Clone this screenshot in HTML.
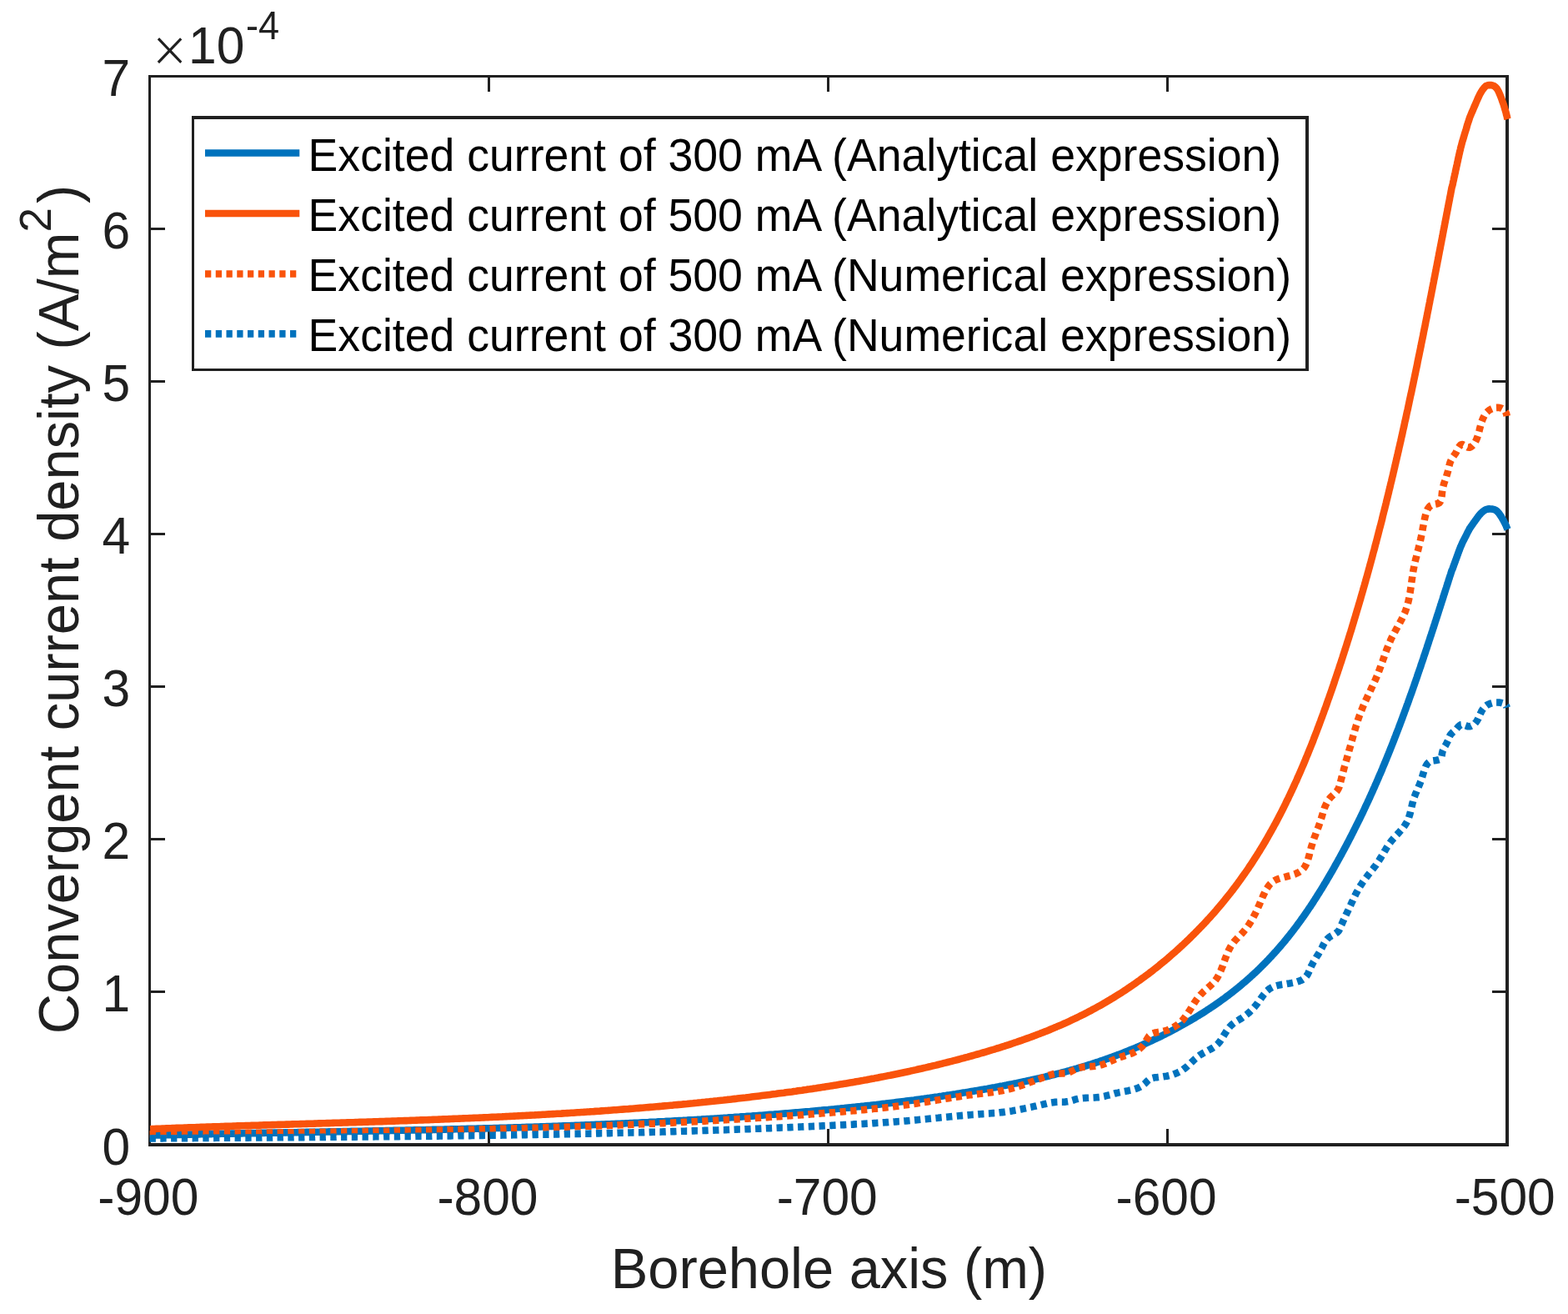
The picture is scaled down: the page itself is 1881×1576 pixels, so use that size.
<!DOCTYPE html><html><head><meta charset="utf-8"><style>html,body{margin:0;padding:0;background:#fff;}svg{display:block;}text{font-family:"Liberation Sans",Arial,sans-serif;}</style></head><body>
<svg width="1881" height="1576" viewBox="0 0 1881 1576">
<rect width="1881" height="1576" fill="#fff"/>
<g fill="#202020">
<rect x="178" y="90" width="1632" height="3"/>
<rect x="178" y="1371" width="1632" height="4"/>
<rect x="178" y="90" width="3" height="1285"/>
<rect x="1806" y="90" width="4" height="1285"/>
<rect x="585" y="1354" width="3" height="17"/>
<rect x="585" y="93" width="3" height="17"/>
<rect x="992" y="1354" width="3" height="17"/>
<rect x="992" y="93" width="3" height="17"/>
<rect x="1399" y="1354" width="3" height="17"/>
<rect x="1399" y="93" width="3" height="17"/>
<rect x="181" y="1188" width="17" height="3"/>
<rect x="1790" y="1188" width="16" height="3"/>
<rect x="181" y="1005" width="17" height="3"/>
<rect x="1790" y="1005" width="16" height="3"/>
<rect x="181" y="822" width="17" height="3"/>
<rect x="1790" y="822" width="16" height="3"/>
<rect x="181" y="639" width="17" height="3"/>
<rect x="1790" y="639" width="16" height="3"/>
<rect x="181" y="456" width="17" height="3"/>
<rect x="1790" y="456" width="16" height="3"/>
<rect x="181" y="273" width="17" height="3"/>
<rect x="1790" y="273" width="16" height="3"/>
</g>
<g fill="none" stroke-linejoin="round">
<path d="M180.1 1361.7 L182.6 1361.6 L185.0 1361.6 L187.4 1361.5 L189.9 1361.5 L192.3 1361.4 L194.7 1361.4 L197.2 1361.3 L199.6 1361.2 L202.0 1361.2 L204.5 1361.1 L206.9 1361.1 L209.3 1361.0 L211.8 1361.0 L214.2 1360.9 L216.6 1360.9 L219.1 1360.8 L221.5 1360.8 L223.9 1360.7 L226.4 1360.6 L228.8 1360.6 L231.2 1360.5 L233.7 1360.5 L236.1 1360.4 L238.6 1360.4 L241.0 1360.3 L243.4 1360.3 L245.9 1360.2 L248.3 1360.2 L250.7 1360.1 L253.2 1360.1 L255.6 1360.0 L258.0 1360.0 L260.5 1359.9 L262.9 1359.9 L265.4 1359.8 L267.8 1359.8 L270.2 1359.8 L272.7 1359.7 L275.1 1359.7 L277.5 1359.6 L280.0 1359.6 L282.4 1359.5 L284.9 1359.5 L287.3 1359.4 L289.7 1359.4 L292.2 1359.3 L294.6 1359.3 L297.0 1359.2 L299.5 1359.2 L301.9 1359.1 L304.4 1359.1 L306.8 1359.1 L309.2 1359.0 L311.7 1359.0 L314.1 1358.9 L316.6 1358.9 L319.0 1358.8 L321.4 1358.8 L323.9 1358.7 L326.3 1358.7 L328.8 1358.6 L331.2 1358.6 L333.6 1358.6 L336.1 1358.5 L338.5 1358.5 L341.0 1358.4 L343.4 1358.4 L345.9 1358.3 L348.3 1358.3 L350.7 1358.2 L353.2 1358.2 L355.6 1358.2 L358.1 1358.1 L360.5 1358.1 L362.9 1358.0 L365.4 1358.0 L367.8 1357.9 L370.3 1357.9 L372.7 1357.8 L375.2 1357.8 L377.6 1357.8 L380.0 1357.7 L382.5 1357.7 L384.9 1357.6 L387.4 1357.6 L389.8 1357.5 L392.2 1357.5 L394.7 1357.4 L397.1 1357.4 L399.6 1357.4 L402.0 1357.3 L404.5 1357.3 L406.9 1357.2 L409.3 1357.2 L411.8 1357.1 L414.2 1357.1 L416.7 1357.0 L419.1 1357.0 L421.6 1356.9 L424.0 1356.9 L426.4 1356.9 L428.9 1356.8 L431.3 1356.8 L433.8 1356.7 L436.2 1356.7 L438.7 1356.6 L441.1 1356.6 L443.5 1356.5 L446.0 1356.5 L448.4 1356.4 L450.9 1356.4 L453.3 1356.3 L455.8 1356.3 L458.2 1356.2 L460.7 1356.2 L463.1 1356.1 L465.5 1356.1 L468.0 1356.0 L470.4 1356.0 L472.9 1355.9 L475.3 1355.9 L477.8 1355.8 L480.2 1355.8 L482.6 1355.7 L485.1 1355.7 L487.5 1355.6 L490.0 1355.6 L492.4 1355.5 L494.9 1355.5 L497.3 1355.4 L499.8 1355.4 L502.2 1355.3 L504.6 1355.3 L507.1 1355.2 L509.5 1355.2 L512.0 1355.1 L514.4 1355.0 L516.9 1355.0 L519.3 1354.9 L521.7 1354.9 L524.2 1354.8 L526.6 1354.8 L529.1 1354.7 L531.5 1354.7 L534.0 1354.6 L536.4 1354.5 L538.8 1354.5 L541.3 1354.4 L543.7 1354.4 L546.2 1354.3 L548.6 1354.2 L551.1 1354.2 L553.5 1354.1 L556.0 1354.1 L558.4 1354.0 L560.8 1353.9 L563.3 1353.9 L565.7 1353.8 L568.2 1353.8 L570.6 1353.7 L573.1 1353.6 L575.5 1353.6 L577.9 1353.5 L580.4 1353.4 L582.8 1353.4 L585.3 1353.3 L587.7 1353.2 L590.1 1353.2 L592.6 1353.1 L595.0 1353.0 L597.5 1353.0 L599.9 1352.9 L602.4 1352.8 L604.8 1352.7 L607.2 1352.7 L609.7 1352.6 L612.1 1352.5 L614.6 1352.5 L617.0 1352.4 L619.5 1352.3 L621.9 1352.2 L624.3 1352.2 L626.8 1352.1 L629.2 1352.0 L631.7 1351.9 L634.1 1351.9 L636.5 1351.8 L639.0 1351.7 L641.4 1351.6 L643.9 1351.5 L646.3 1351.5 L648.7 1351.4 L651.2 1351.3 L653.6 1351.2 L656.1 1351.1 L658.5 1351.0 L660.9 1351.0 L663.4 1350.9 L665.8 1350.8 L668.3 1350.7 L670.7 1350.6 L673.1 1350.5 L675.6 1350.4 L678.0 1350.4 L680.5 1350.3 L682.9 1350.2 L685.3 1350.1 L687.8 1350.0 L690.2 1349.9 L692.7 1349.8 L695.1 1349.7 L697.5 1349.6 L700.0 1349.5 L702.4 1349.4 L704.8 1349.3 L707.3 1349.2 L709.7 1349.1 L712.2 1349.0 L714.6 1348.9 L717.0 1348.8 L719.5 1348.7 L721.9 1348.6 L724.3 1348.5 L726.8 1348.4 L729.2 1348.3 L731.6 1348.2 L734.1 1348.1 L736.5 1348.0 L739.0 1347.9 L741.4 1347.8 L743.8 1347.7 L746.3 1347.6 L748.7 1347.5 L751.1 1347.3 L753.6 1347.2 L756.0 1347.1 L758.4 1347.0 L760.9 1346.9 L763.3 1346.8 L765.7 1346.7 L768.2 1346.5 L770.6 1346.4 L773.0 1346.3 L775.5 1346.2 L777.9 1346.1 L780.3 1345.9 L782.8 1345.8 L785.2 1345.7 L787.6 1345.6 L790.1 1345.4 L792.5 1345.3 L794.9 1345.2 L797.4 1345.1 L799.8 1344.9 L802.2 1344.8 L804.6 1344.7 L807.1 1344.5 L809.5 1344.4 L811.9 1344.3 L814.4 1344.1 L816.8 1344.0 L819.2 1343.9 L821.7 1343.7 L824.1 1343.6 L826.5 1343.4 L828.9 1343.3 L831.4 1343.2 L833.8 1343.0 L836.2 1342.9 L838.7 1342.7 L841.1 1342.6 L843.5 1342.4 L845.9 1342.3 L848.4 1342.1 L850.8 1342.0 L853.2 1341.8 L855.6 1341.7 L858.1 1341.5 L860.5 1341.4 L862.9 1341.2 L865.4 1341.0 L867.8 1340.9 L870.2 1340.7 L872.6 1340.6 L875.0 1340.4 L877.5 1340.2 L879.9 1340.1 L882.3 1339.9 L884.7 1339.7 L887.2 1339.6 L889.6 1339.4 L892.0 1339.2 L894.4 1339.1 L896.9 1338.9 L899.3 1338.7 L901.7 1338.6 L904.1 1338.4 L906.5 1338.2 L909.0 1338.0 L911.4 1337.8 L913.8 1337.7 L916.2 1337.5 L918.6 1337.3 L921.1 1337.1 L923.5 1336.9 L925.9 1336.7 L928.3 1336.6 L930.7 1336.4 L933.2 1336.2 L935.6 1336.0 L938.0 1335.8 L940.4 1335.6 L942.8 1335.4 L945.2 1335.2 L947.7 1335.0 L950.1 1334.8 L952.5 1334.6 L954.9 1334.4 L957.3 1334.2 L959.7 1334.0 L962.2 1333.8 L964.6 1333.6 L967.0 1333.4 L969.4 1333.2 L971.8 1333.0 L974.2 1332.7 L976.6 1332.5 L979.0 1332.3 L981.5 1332.1 L983.9 1331.9 L986.3 1331.6 L988.7 1331.4 L991.1 1331.2 L993.5 1331.0 L995.9 1330.7 L998.3 1330.5 L1000.7 1330.3 L1003.1 1330.0 L1005.5 1329.8 L1007.9 1329.6 L1010.3 1329.3 L1012.8 1329.1 L1015.2 1328.8 L1017.6 1328.6 L1020.0 1328.4 L1022.4 1328.1 L1024.8 1327.9 L1027.2 1327.6 L1029.6 1327.3 L1032.0 1327.1 L1034.4 1326.8 L1036.8 1326.6 L1039.2 1326.3 L1041.6 1326.0 L1044.0 1325.8 L1046.4 1325.5 L1048.8 1325.2 L1051.2 1325.0 L1053.6 1324.7 L1055.9 1324.4 L1058.3 1324.1 L1060.7 1323.9 L1063.1 1323.6 L1065.5 1323.3 L1067.9 1323.0 L1070.3 1322.7 L1072.7 1322.4 L1075.1 1322.1 L1077.5 1321.8 L1079.9 1321.5 L1082.2 1321.2 L1084.6 1320.9 L1087.0 1320.6 L1089.4 1320.3 L1091.8 1320.0 L1094.2 1319.7 L1096.6 1319.4 L1098.9 1319.0 L1101.3 1318.7 L1103.7 1318.4 L1106.1 1318.1 L1108.5 1317.8 L1110.8 1317.4 L1113.2 1317.1 L1115.6 1316.8 L1118.0 1316.4 L1120.3 1316.1 L1122.7 1315.7 L1125.1 1315.4 L1127.5 1315.0 L1129.8 1314.7 L1132.2 1314.3 L1134.6 1314.0 L1137.0 1313.6 L1139.3 1313.3 L1141.7 1312.9 L1144.1 1312.5 L1146.4 1312.2 L1148.8 1311.8 L1151.2 1311.4 L1153.5 1311.0 L1155.9 1310.6 L1158.2 1310.3 L1160.6 1309.9 L1163.0 1309.5 L1165.3 1309.1 L1167.7 1308.7 L1170.0 1308.3 L1172.4 1307.9 L1174.8 1307.5 L1177.1 1307.1 L1179.5 1306.7 L1181.8 1306.3 L1184.2 1305.9 L1186.5 1305.4 L1188.9 1305.0 L1191.2 1304.6 L1193.6 1304.2 L1195.9 1303.7 L1198.3 1303.3 L1200.6 1302.8 L1202.9 1302.4 L1205.3 1301.9 L1207.6 1301.5 L1209.9 1301.0 L1212.3 1300.6 L1214.6 1300.1 L1216.9 1299.6 L1219.2 1299.2 L1221.6 1298.7 L1223.9 1298.2 L1226.2 1297.7 L1228.5 1297.2 L1230.8 1296.8 L1233.1 1296.3 L1235.4 1295.8 L1237.7 1295.2 L1240.0 1294.7 L1242.3 1294.2 L1244.6 1293.7 L1246.9 1293.2 L1249.2 1292.6 L1251.4 1292.1 L1253.7 1291.6 L1256.0 1291.0 L1258.3 1290.5 L1260.5 1289.9 L1262.8 1289.4 L1265.0 1288.8 L1267.3 1288.2 L1269.5 1287.6 L1271.8 1287.1 L1274.0 1286.5 L1276.3 1285.9 L1278.5 1285.3 L1280.7 1284.7 L1282.9 1284.1 L1285.2 1283.4 L1287.4 1282.8 L1289.6 1282.2 L1291.8 1281.6 L1294.0 1280.9 L1296.2 1280.3 L1298.3 1279.6 L1300.5 1279.0 L1302.7 1278.3 L1304.9 1277.6 L1307.0 1276.9 L1309.2 1276.3 L1311.3 1275.6 L1313.5 1274.9 L1315.6 1274.2 L1317.8 1273.5 L1319.9 1272.7 L1322.0 1272.0 L1324.1 1271.3 L1326.2 1270.6 L1328.3 1269.8 L1330.4 1269.1 L1332.5 1268.3 L1334.6 1267.6 L1336.7 1266.8 L1338.8 1266.0 L1340.8 1265.2 L1342.9 1264.5 L1345.0 1263.7 L1347.0 1262.9 L1349.1 1262.1 L1351.1 1261.3 L1353.1 1260.5 L1355.1 1259.6 L1357.2 1258.8 L1359.2 1258.0 L1361.2 1257.2 L1363.2 1256.3 L1365.2 1255.5 L1367.2 1254.6 L1369.1 1253.8 L1371.1 1252.9 L1373.1 1252.0 L1375.0 1251.2 L1377.0 1250.3 L1378.9 1249.4 L1380.9 1248.5 L1382.8 1247.6 L1384.7 1246.7 L1386.6 1245.8 L1388.5 1244.9 L1390.4 1244.0 L1392.3 1243.1 L1394.2 1242.1 L1396.1 1241.2 L1398.0 1240.3 L1399.9 1239.3 L1401.7 1238.4 L1403.6 1237.4 L1405.4 1236.5 L1407.2 1235.5 L1409.1 1234.5 L1410.9 1233.6 L1412.7 1232.6 L1414.5 1231.6 L1416.3 1230.6 L1418.1 1229.6 L1419.9 1228.6 L1421.7 1227.6 L1423.4 1226.6 L1425.2 1225.6 L1427.0 1224.6 L1428.7 1223.6 L1430.4 1222.5 L1432.2 1221.5 L1433.9 1220.5 L1435.6 1219.4 L1437.3 1218.4 L1439.0 1217.3 L1440.7 1216.3 L1442.4 1215.2 L1444.1 1214.2 L1445.7 1213.1 L1447.4 1212.0 L1449.0 1210.9 L1450.7 1209.9 L1452.3 1208.8 L1453.9 1207.7 L1455.6 1206.6 L1457.2 1205.5 L1458.8 1204.4 L1460.4 1203.3 L1461.9 1202.2 L1463.5 1201.1 L1465.1 1199.9 L1466.6 1198.8 L1468.2 1197.7 L1469.7 1196.6 L1471.2 1195.4 L1472.8 1194.3 L1474.3 1193.1 L1475.8 1192.0 L1477.3 1190.8 L1478.8 1189.7 L1480.2 1188.5 L1481.7 1187.4 L1483.2 1186.2 L1484.6 1185.0 L1486.1 1183.8 L1487.5 1182.7 L1488.9 1181.5 L1490.3 1180.3 L1491.7 1179.1 L1493.1 1177.9 L1494.5 1176.7 L1495.9 1175.5 L1497.3 1174.3 L1498.6 1173.1 L1500.0 1171.9 L1501.3 1170.7 L1502.6 1169.5 L1504.0 1168.2 L1505.3 1167.0 L1506.6 1165.8 L1507.9 1164.6 L1509.2 1163.3 L1510.5 1162.1 L1511.7 1160.8 L1513.0 1159.6 L1514.3 1158.3 L1515.5 1157.1 L1516.8 1155.8 L1518.0 1154.6 L1519.2 1153.3 L1520.4 1152.1 L1521.6 1150.8 L1522.8 1149.5 L1524.0 1148.3 L1525.2 1147.0 L1526.4 1145.7 L1527.6 1144.4 L1528.7 1143.1 L1529.9 1141.9 L1531.1 1140.6 L1532.2 1139.3 L1533.3 1138.0 L1534.5 1136.7 L1535.6 1135.4 L1536.7 1134.1 L1537.8 1132.8 L1538.9 1131.5 L1540.0 1130.2 L1541.1 1128.9 L1542.2 1127.6 L1543.2 1126.2 L1544.3 1124.9 L1545.4 1123.6 L1546.4 1122.3 L1547.5 1121.0 L1548.5 1119.6 L1549.6 1118.3 L1550.6 1117.0 L1551.6 1115.7 L1552.6 1114.3 L1553.6 1113.0 L1554.7 1111.6 L1555.7 1110.3 L1556.6 1109.0 L1557.6 1107.6 L1558.6 1106.3 L1559.6 1104.9 L1560.6 1103.6 L1561.5 1102.2 L1562.5 1100.9 L1563.5 1099.5 L1564.4 1098.2 L1565.4 1096.8 L1566.3 1095.5 L1567.2 1094.1 L1568.2 1092.7 L1569.1 1091.4 L1570.0 1090.0 L1570.9 1088.6 L1571.9 1087.3 L1572.8 1085.9 L1573.7 1084.5 L1574.6 1083.2 L1575.5 1081.8 L1576.3 1080.4 L1577.2 1079.1 L1578.1 1077.7 L1579.0 1076.3 L1579.9 1074.9 L1580.7 1073.6 L1581.6 1072.2 L1582.5 1070.8 L1583.3 1069.4 L1584.2 1068.0 L1585.0 1066.7 L1585.9 1065.3 L1586.7 1063.9 L1587.6 1062.5 L1588.4 1061.1 L1589.2 1059.7 L1590.1 1058.4 L1590.9 1057.0 L1591.7 1055.6 L1592.5 1054.2 L1593.3 1052.8 L1594.2 1051.4 L1595.0 1050.0 L1595.8 1048.6 L1596.6 1047.3 L1597.4 1045.9 L1598.2 1044.5 L1599.0 1043.1 L1599.8 1041.7 L1600.6 1040.3 L1601.3 1038.9 L1602.1 1037.5 L1602.9 1036.1 L1603.7 1034.7 L1604.5 1033.3 L1605.2 1031.9 L1606.0 1030.6 L1606.8 1029.2 L1607.5 1027.8 L1608.3 1026.4 L1609.1 1025.0 L1609.8 1023.6 L1610.6 1022.2 L1611.3 1020.8 L1612.1 1019.4 L1612.8 1018.0 L1613.6 1016.6 L1614.3 1015.2 L1615.1 1013.8 L1615.8 1012.4 L1616.5 1011.0 L1617.3 1009.6 L1618.0 1008.2 L1618.7 1006.8 L1619.4 1005.4 L1620.2 1004.0 L1620.9 1002.6 L1621.6 1001.2 L1622.3 999.8 L1623.0 998.4 L1623.7 997.0 L1624.4 995.6 L1625.1 994.2 L1625.8 992.8 L1626.5 991.4 L1627.2 990.0 L1627.9 988.6 L1628.6 987.2 L1629.3 985.8 L1630.0 984.4 L1630.7 983.0 L1631.4 981.6 L1632.1 980.2 L1632.7 978.8 L1633.4 977.4 L1634.1 976.0 L1634.8 974.6 L1635.4 973.2 L1636.1 971.8 L1636.8 970.3 L1637.4 968.9 L1638.1 967.5 L1638.7 966.1 L1639.4 964.7 L1640.1 963.3 L1640.7 961.9 L1641.4 960.5 L1642.0 959.1 L1642.7 957.7 L1643.3 956.3 L1643.9 954.8 L1644.6 953.4 L1645.2 952.0 L1645.9 950.6 L1646.5 949.2 L1647.1 947.8 L1647.7 946.4 L1648.4 945.0 L1649.0 943.6 L1649.6 942.1 L1650.2 940.7 L1650.9 939.3 L1651.5 937.9 L1652.1 936.5 L1652.7 935.1 L1653.3 933.7 L1653.9 932.3 L1654.5 930.8 L1655.1 929.4 L1655.8 928.0 L1656.4 926.6 L1657.0 925.2 L1657.6 923.8 L1658.2 922.3 L1658.7 920.9 L1659.3 919.5 L1659.9 918.1 L1660.5 916.7 L1661.1 915.3 L1661.7 913.8 L1662.3 912.4 L1662.9 911.0 L1663.4 909.6 L1664.0 908.2 L1664.6 906.7 L1665.2 905.3 L1665.8 903.9 L1666.3 902.5 L1666.9 901.1 L1667.5 899.6 L1668.0 898.2 L1668.6 896.8 L1669.2 895.4 L1669.7 894.0 L1670.3 892.5 L1670.9 891.1 L1671.4 889.7 L1672.0 888.3 L1672.5 886.9 L1673.1 885.4 L1673.6 884.0 L1674.2 882.6 L1674.7 881.2 L1675.3 879.7 L1675.8 878.3 L1676.4 876.9 L1676.9 875.5 L1677.5 874.0 L1678.0 872.6 L1678.5 871.2 L1679.1 869.8 L1679.6 868.3 L1680.2 866.9 L1680.7 865.5 L1681.2 864.1 L1681.8 862.6 L1682.3 861.2 L1682.8 859.8 L1683.3 858.4 L1683.9 856.9 L1684.4 855.5 L1684.9 854.1 L1685.4 852.6 L1686.0 851.2 L1686.5 849.8 L1687.0 848.4 L1687.5 846.9 L1688.0 845.5 L1688.6 844.1 L1689.1 842.6 L1689.6 841.2 L1690.1 839.8 L1690.6 838.4 L1691.1 836.9 L1691.6 835.5 L1692.1 834.1 L1692.7 832.6 L1693.2 831.2 L1693.7 829.8 L1694.2 828.3 L1694.7 826.9 L1695.2 825.5 L1695.7 824.0 L1696.2 822.6 L1696.7 821.2 L1697.2 819.7 L1697.7 818.3 L1698.2 816.9 L1698.7 815.4 L1699.2 814.0 L1699.7 812.6 L1700.2 811.1 L1700.6 809.7 L1701.1 808.3 L1701.6 806.8 L1702.1 805.4 L1702.6 804.0 L1703.1 802.5 L1703.6 801.1 L1704.1 799.7 L1704.6 798.2 L1705.0 796.8 L1705.5 795.4 L1706.0 793.9 L1706.5 792.5 L1707.0 791.0 L1707.5 789.6 L1707.9 788.2 L1708.4 786.7 L1708.9 785.3 L1709.4 783.9 L1709.9 782.4 L1710.3 781.0 L1710.8 779.5 L1711.3 778.1 L1711.8 776.7 L1712.2 775.2 L1712.7 773.8 L1713.2 772.4 L1713.7 770.9 L1714.1 769.5 L1714.6 768.0 L1715.1 766.6 L1715.5 765.2 L1716.0 763.7 L1716.5 762.3 L1717.0 760.8 L1717.4 759.4 L1717.9 758.0 L1718.4 756.5 L1718.8 755.1 L1719.3 753.6 L1719.8 752.2 L1720.2 750.8 L1720.7 749.3 L1721.2 747.9 L1721.6 746.4 L1722.1 745.0 L1722.6 743.5 L1723.0 742.1 L1723.5 740.7 L1724.0 739.2 L1724.4 737.8 L1724.9 736.3 L1725.4 734.9 L1725.8 733.4 L1726.3 732.0 L1726.7 730.6 L1727.2 729.1 L1727.7 727.7 L1728.1 726.2 L1728.6 724.8 L1729.1 723.3 L1729.5 721.9 L1730.0 720.5 L1730.5 719.0 L1730.9 717.6 L1731.4 716.1 L1731.8 714.7 L1732.3 713.2 L1732.8 711.8 L1733.2 710.3 L1733.7 708.9 L1734.1 707.5 L1734.6 706.0 L1735.1 704.6 L1735.5 703.1 L1736.0 701.7 L1736.5 700.2 L1736.9 698.8 L1737.4 697.3 L1737.8 695.9 L1738.3 694.4 L1738.8 693.0 L1739.2 691.5 L1739.7 690.1 L1740.2 688.7 L1740.6 687.2 L1741.1 685.8 L1741.5 684.3 L1742.2 683.0 L1742.8 681.6 L1743.2 680.2 L1743.8 678.8 L1744.2 677.4 L1744.8 676.0 L1745.2 674.7 L1745.8 673.3 L1746.2 671.9 L1746.8 670.5 L1747.2 669.2 L1747.8 667.8 L1748.2 666.4 L1748.8 665.0 L1749.2 663.6 L1749.8 662.3 L1750.2 660.9 L1750.8 659.6 L1751.2 658.2 L1751.8 656.9 L1752.2 655.7 L1752.8 654.5 L1753.5 652.8 L1754.2 651.2 L1755.0 649.6 L1755.8 648.1 L1756.5 646.7 L1757.2 645.2 L1758.0 643.7 L1758.8 642.2 L1759.5 640.7 L1760.2 639.2 L1761.0 637.7 L1761.8 636.3 L1762.5 634.9 L1763.2 633.6 L1764.0 632.5 L1764.8 631.3 L1765.8 629.9 L1766.8 628.5 L1767.8 627.1 L1768.8 625.7 L1769.8 624.3 L1770.8 622.9 L1771.8 621.5 L1772.8 620.2 L1773.8 618.8 L1774.8 617.6 L1775.8 616.5 L1777.0 615.2 L1778.2 614.1 L1779.5 613.0 L1781.0 612.0 L1782.5 611.1 L1784.5 610.6 L1786.5 610.4 L1788.5 610.5 L1790.5 610.6 L1792.5 611.1 L1794.2 611.9 L1795.8 613.0 L1797.0 614.3 L1798.0 615.4 L1799.0 616.8 L1800.0 618.3 L1800.8 619.5 L1801.5 620.7 L1802.2 621.9 L1803.0 623.2 L1803.8 624.6 L1804.5 626.0 L1805.2 627.4 L1806.0 629.0 L1806.8 630.7 L1807.2 631.9 L1807.8 633.1 L1808.2 634.3 L1808.5 635.0" stroke="#0072BD" stroke-width="8.6" stroke-linecap="butt"/>
<path d="M180.1 1354.2 L182.6 1354.1 L185.0 1354.0 L187.4 1353.9 L189.9 1353.8 L192.3 1353.7 L194.7 1353.6 L197.2 1353.5 L199.6 1353.4 L202.0 1353.3 L204.5 1353.2 L206.9 1353.1 L209.3 1353.0 L211.8 1352.9 L214.2 1352.9 L216.6 1352.8 L219.1 1352.7 L221.5 1352.6 L223.9 1352.5 L226.4 1352.4 L228.8 1352.3 L231.2 1352.2 L233.7 1352.2 L236.1 1352.1 L238.6 1352.0 L241.0 1351.9 L243.4 1351.8 L245.9 1351.7 L248.3 1351.6 L250.7 1351.6 L253.2 1351.5 L255.6 1351.4 L258.0 1351.3 L260.5 1351.2 L262.9 1351.2 L265.4 1351.1 L267.8 1351.0 L270.2 1350.9 L272.7 1350.8 L275.1 1350.8 L277.5 1350.7 L280.0 1350.6 L282.4 1350.5 L284.9 1350.4 L287.3 1350.4 L289.7 1350.3 L292.2 1350.2 L294.6 1350.1 L297.0 1350.1 L299.5 1350.0 L301.9 1349.9 L304.4 1349.8 L306.8 1349.8 L309.2 1349.7 L311.7 1349.6 L314.1 1349.5 L316.6 1349.4 L319.0 1349.4 L321.4 1349.3 L323.9 1349.2 L326.3 1349.1 L328.8 1349.1 L331.2 1349.0 L333.6 1348.9 L336.1 1348.9 L338.5 1348.8 L341.0 1348.7 L343.4 1348.6 L345.9 1348.6 L348.3 1348.5 L350.7 1348.4 L353.2 1348.3 L355.6 1348.3 L358.1 1348.2 L360.5 1348.1 L362.9 1348.0 L365.4 1348.0 L367.8 1347.9 L370.3 1347.8 L372.7 1347.7 L375.2 1347.7 L377.6 1347.6 L380.0 1347.5 L382.5 1347.4 L384.9 1347.4 L387.4 1347.3 L389.8 1347.2 L392.2 1347.1 L394.7 1347.1 L397.1 1347.0 L399.6 1346.9 L402.0 1346.8 L404.5 1346.8 L406.9 1346.7 L409.3 1346.6 L411.8 1346.5 L414.2 1346.5 L416.7 1346.4 L419.1 1346.3 L421.6 1346.2 L424.0 1346.2 L426.4 1346.1 L428.9 1346.0 L431.3 1345.9 L433.8 1345.9 L436.2 1345.8 L438.7 1345.7 L441.1 1345.6 L443.5 1345.5 L446.0 1345.5 L448.4 1345.4 L450.9 1345.3 L453.3 1345.2 L455.8 1345.1 L458.2 1345.1 L460.7 1345.0 L463.1 1344.9 L465.5 1344.8 L468.0 1344.7 L470.4 1344.6 L472.9 1344.6 L475.3 1344.5 L477.8 1344.4 L480.2 1344.3 L482.6 1344.2 L485.1 1344.1 L487.5 1344.1 L490.0 1344.0 L492.4 1343.9 L494.9 1343.8 L497.3 1343.7 L499.8 1343.6 L502.2 1343.5 L504.6 1343.4 L507.1 1343.4 L509.5 1343.3 L512.0 1343.2 L514.4 1343.1 L516.9 1343.0 L519.3 1342.9 L521.7 1342.8 L524.2 1342.7 L526.6 1342.6 L529.1 1342.5 L531.5 1342.4 L534.0 1342.3 L536.4 1342.2 L538.8 1342.1 L541.3 1342.0 L543.7 1341.9 L546.2 1341.8 L548.6 1341.7 L551.1 1341.6 L553.5 1341.5 L556.0 1341.4 L558.4 1341.3 L560.8 1341.2 L563.3 1341.1 L565.7 1341.0 L568.2 1340.9 L570.6 1340.8 L573.1 1340.7 L575.5 1340.6 L577.9 1340.5 L580.4 1340.4 L582.8 1340.3 L585.3 1340.2 L587.7 1340.0 L590.1 1339.9 L592.6 1339.8 L595.0 1339.7 L597.5 1339.6 L599.9 1339.5 L602.4 1339.4 L604.8 1339.2 L607.2 1339.1 L609.7 1339.0 L612.1 1338.9 L614.6 1338.8 L617.0 1338.6 L619.5 1338.5 L621.9 1338.4 L624.3 1338.3 L626.8 1338.1 L629.2 1338.0 L631.7 1337.9 L634.1 1337.8 L636.5 1337.6 L639.0 1337.5 L641.4 1337.4 L643.9 1337.2 L646.3 1337.1 L648.7 1337.0 L651.2 1336.8 L653.6 1336.7 L656.1 1336.5 L658.5 1336.4 L660.9 1336.3 L663.4 1336.1 L665.8 1336.0 L668.3 1335.8 L670.7 1335.7 L673.1 1335.6 L675.6 1335.4 L678.0 1335.3 L680.5 1335.1 L682.9 1335.0 L685.3 1334.8 L687.8 1334.7 L690.2 1334.5 L692.7 1334.3 L695.1 1334.2 L697.5 1334.0 L700.0 1333.9 L702.4 1333.7 L704.8 1333.5 L707.3 1333.4 L709.7 1333.2 L712.2 1333.1 L714.6 1332.9 L717.0 1332.7 L719.5 1332.6 L721.9 1332.4 L724.3 1332.2 L726.8 1332.0 L729.2 1331.9 L731.6 1331.7 L734.1 1331.5 L736.5 1331.3 L739.0 1331.2 L741.4 1331.0 L743.8 1330.8 L746.3 1330.6 L748.7 1330.4 L751.1 1330.2 L753.6 1330.1 L756.0 1329.9 L758.4 1329.7 L760.9 1329.5 L763.3 1329.3 L765.7 1329.1 L768.2 1328.9 L770.6 1328.7 L773.0 1328.5 L775.5 1328.3 L777.9 1328.1 L780.3 1327.9 L782.8 1327.7 L785.2 1327.5 L787.6 1327.3 L790.1 1327.1 L792.5 1326.9 L794.9 1326.6 L797.4 1326.4 L799.8 1326.2 L802.2 1326.0 L804.6 1325.8 L807.1 1325.6 L809.5 1325.3 L811.9 1325.1 L814.4 1324.9 L816.8 1324.7 L819.2 1324.4 L821.7 1324.2 L824.1 1324.0 L826.5 1323.7 L828.9 1323.5 L831.4 1323.3 L833.8 1323.0 L836.2 1322.8 L838.7 1322.5 L841.1 1322.3 L843.5 1322.0 L845.9 1321.8 L848.4 1321.5 L850.8 1321.3 L853.2 1321.0 L855.6 1320.8 L858.1 1320.5 L860.5 1320.3 L862.9 1320.0 L865.4 1319.7 L867.8 1319.5 L870.2 1319.2 L872.6 1318.9 L875.0 1318.7 L877.5 1318.4 L879.9 1318.1 L882.3 1317.9 L884.7 1317.6 L887.2 1317.3 L889.6 1317.0 L892.0 1316.7 L894.4 1316.5 L896.9 1316.2 L899.3 1315.9 L901.7 1315.6 L904.1 1315.3 L906.5 1315.0 L909.0 1314.7 L911.4 1314.4 L913.8 1314.1 L916.2 1313.8 L918.6 1313.5 L921.1 1313.2 L923.5 1312.9 L925.9 1312.6 L928.3 1312.3 L930.7 1312.0 L933.2 1311.6 L935.6 1311.3 L938.0 1311.0 L940.4 1310.7 L942.8 1310.3 L945.2 1310.0 L947.7 1309.7 L950.1 1309.4 L952.5 1309.0 L954.9 1308.7 L957.3 1308.3 L959.7 1308.0 L962.2 1307.7 L964.6 1307.3 L967.0 1307.0 L969.4 1306.6 L971.8 1306.3 L974.2 1305.9 L976.6 1305.5 L979.0 1305.2 L981.5 1304.8 L983.9 1304.4 L986.3 1304.1 L988.7 1303.7 L991.1 1303.3 L993.5 1302.9 L995.9 1302.6 L998.3 1302.2 L1000.7 1301.8 L1003.1 1301.4 L1005.5 1301.0 L1007.9 1300.6 L1010.3 1300.2 L1012.8 1299.8 L1015.2 1299.4 L1017.6 1299.0 L1020.0 1298.6 L1022.4 1298.2 L1024.8 1297.8 L1027.2 1297.3 L1029.6 1296.9 L1032.0 1296.5 L1034.4 1296.1 L1036.8 1295.6 L1039.2 1295.2 L1041.6 1294.7 L1044.0 1294.3 L1046.4 1293.8 L1048.8 1293.4 L1051.2 1292.9 L1053.6 1292.5 L1055.9 1292.0 L1058.3 1291.6 L1060.7 1291.1 L1063.1 1290.6 L1065.5 1290.1 L1067.9 1289.7 L1070.3 1289.2 L1072.7 1288.7 L1075.1 1288.2 L1077.5 1287.7 L1079.9 1287.2 L1082.2 1286.7 L1084.6 1286.2 L1087.0 1285.7 L1089.4 1285.2 L1091.8 1284.7 L1094.2 1284.1 L1096.6 1283.6 L1098.9 1283.1 L1101.3 1282.5 L1103.7 1282.0 L1106.1 1281.5 L1108.5 1280.9 L1110.8 1280.4 L1113.2 1279.8 L1115.6 1279.3 L1118.0 1278.7 L1120.3 1278.1 L1122.7 1277.6 L1125.1 1277.0 L1127.5 1276.4 L1129.8 1275.8 L1132.2 1275.2 L1134.6 1274.6 L1137.0 1274.0 L1139.3 1273.4 L1141.7 1272.8 L1144.1 1272.2 L1146.4 1271.6 L1148.8 1271.0 L1151.2 1270.3 L1153.5 1269.7 L1155.9 1269.1 L1158.2 1268.4 L1160.6 1267.8 L1163.0 1267.1 L1165.3 1266.5 L1167.7 1265.8 L1170.0 1265.2 L1172.4 1264.5 L1174.8 1263.8 L1177.1 1263.2 L1179.5 1262.5 L1181.8 1261.8 L1184.2 1261.1 L1186.5 1260.4 L1188.9 1259.7 L1191.2 1259.0 L1193.6 1258.3 L1195.9 1257.5 L1198.3 1256.8 L1200.6 1256.1 L1202.9 1255.3 L1205.3 1254.6 L1207.6 1253.8 L1209.9 1253.1 L1212.3 1252.3 L1214.6 1251.5 L1216.9 1250.7 L1219.2 1250.0 L1221.6 1249.2 L1223.9 1248.4 L1226.2 1247.6 L1228.5 1246.7 L1230.8 1245.9 L1233.1 1245.1 L1235.4 1244.3 L1237.7 1243.4 L1240.0 1242.6 L1242.3 1241.7 L1244.6 1240.8 L1246.9 1240.0 L1249.2 1239.1 L1251.4 1238.2 L1253.7 1237.3 L1256.0 1236.4 L1258.3 1235.5 L1260.5 1234.5 L1262.8 1233.6 L1265.0 1232.6 L1267.3 1231.7 L1269.5 1230.7 L1271.8 1229.8 L1274.0 1228.8 L1276.3 1227.8 L1278.5 1226.8 L1280.7 1225.8 L1282.9 1224.8 L1285.2 1223.7 L1287.4 1222.7 L1289.6 1221.7 L1291.8 1220.6 L1294.0 1219.5 L1296.2 1218.4 L1298.3 1217.4 L1300.5 1216.3 L1302.7 1215.2 L1304.9 1214.0 L1307.0 1212.9 L1309.2 1211.8 L1311.3 1210.6 L1313.5 1209.4 L1315.6 1208.3 L1317.8 1207.1 L1319.9 1205.9 L1322.0 1204.7 L1324.1 1203.5 L1326.2 1202.3 L1328.3 1201.0 L1330.4 1199.8 L1332.5 1198.5 L1334.6 1197.3 L1336.7 1196.0 L1338.8 1194.7 L1340.8 1193.4 L1342.9 1192.1 L1345.0 1190.8 L1347.0 1189.5 L1349.1 1188.1 L1351.1 1186.8 L1353.1 1185.4 L1355.1 1184.1 L1357.2 1182.7 L1359.2 1181.3 L1361.2 1179.9 L1363.2 1178.5 L1365.2 1177.1 L1367.2 1175.7 L1369.1 1174.3 L1371.1 1172.8 L1373.1 1171.4 L1375.0 1169.9 L1377.0 1168.5 L1378.9 1167.0 L1380.9 1165.5 L1382.8 1164.0 L1384.7 1162.5 L1386.6 1161.0 L1388.5 1159.5 L1390.4 1158.0 L1392.3 1156.4 L1394.2 1154.9 L1396.1 1153.3 L1398.0 1151.8 L1399.9 1150.2 L1401.7 1148.6 L1403.6 1147.0 L1405.4 1145.4 L1407.2 1143.8 L1409.1 1142.2 L1410.9 1140.6 L1412.7 1139.0 L1414.5 1137.3 L1416.3 1135.7 L1418.1 1134.0 L1419.9 1132.4 L1421.7 1130.7 L1423.4 1129.0 L1425.2 1127.3 L1427.0 1125.6 L1428.7 1123.9 L1430.4 1122.2 L1432.2 1120.5 L1433.9 1118.8 L1435.6 1117.0 L1437.3 1115.3 L1439.0 1113.5 L1440.7 1111.8 L1442.4 1110.0 L1444.1 1108.3 L1445.7 1106.5 L1447.4 1104.7 L1449.0 1102.9 L1450.7 1101.1 L1452.3 1099.3 L1453.9 1097.5 L1455.6 1095.6 L1457.2 1093.8 L1458.8 1092.0 L1460.4 1090.1 L1461.9 1088.3 L1463.5 1086.4 L1465.1 1084.6 L1466.6 1082.7 L1468.2 1080.8 L1469.7 1078.9 L1471.2 1077.0 L1472.8 1075.1 L1474.3 1073.2 L1475.8 1071.3 L1477.3 1069.4 L1478.8 1067.5 L1480.2 1065.5 L1481.7 1063.6 L1483.2 1061.6 L1484.6 1059.7 L1486.1 1057.7 L1487.5 1055.8 L1488.9 1053.8 L1490.3 1051.8 L1491.7 1049.8 L1493.1 1047.9 L1494.5 1045.9 L1495.9 1043.9 L1497.3 1041.9 L1498.6 1039.8 L1500.0 1037.8 L1501.3 1035.8 L1502.6 1033.8 L1504.0 1031.7 L1505.3 1029.7 L1506.6 1027.6 L1507.9 1025.6 L1509.2 1023.5 L1510.5 1021.5 L1511.7 1019.4 L1513.0 1017.3 L1514.3 1015.2 L1515.5 1013.2 L1516.8 1011.1 L1518.0 1009.0 L1519.2 1006.9 L1520.4 1004.8 L1521.6 1002.7 L1522.8 1000.6 L1524.0 998.4 L1525.2 996.3 L1526.4 994.2 L1527.6 992.1 L1528.7 989.9 L1529.9 987.8 L1531.1 985.6 L1532.2 983.5 L1533.3 981.3 L1534.5 979.2 L1535.6 977.0 L1536.7 974.8 L1537.8 972.7 L1538.9 970.5 L1540.0 968.3 L1541.1 966.1 L1542.2 963.9 L1543.2 961.7 L1544.3 959.5 L1545.4 957.4 L1546.4 955.1 L1547.5 952.9 L1548.5 950.7 L1549.6 948.5 L1550.6 946.3 L1551.6 944.1 L1552.6 941.9 L1553.6 939.6 L1554.7 937.4 L1555.7 935.2 L1556.6 932.9 L1557.6 930.7 L1558.6 928.5 L1559.6 926.2 L1560.6 924.0 L1561.5 921.7 L1562.5 919.5 L1563.5 917.2 L1564.4 915.0 L1565.4 912.7 L1566.3 910.4 L1567.2 908.2 L1568.2 905.9 L1569.1 903.6 L1570.0 901.4 L1570.9 899.1 L1571.9 896.8 L1572.8 894.5 L1573.7 892.2 L1574.6 890.0 L1575.5 887.7 L1576.3 885.4 L1577.2 883.1 L1578.1 880.8 L1579.0 878.5 L1579.9 876.2 L1580.7 873.9 L1581.6 871.6 L1582.5 869.3 L1583.3 867.0 L1584.2 864.7 L1585.0 862.4 L1585.9 860.1 L1586.7 857.8 L1587.6 855.5 L1588.4 853.2 L1589.2 850.9 L1590.1 848.6 L1590.9 846.3 L1591.7 844.0 L1592.5 841.7 L1593.3 839.3 L1594.2 837.0 L1595.0 834.7 L1595.8 832.4 L1596.6 830.1 L1597.4 827.8 L1598.2 825.5 L1599.0 823.1 L1599.8 820.8 L1600.6 818.5 L1601.3 816.2 L1602.1 813.9 L1602.9 811.5 L1603.7 809.2 L1604.5 806.9 L1605.2 804.6 L1606.0 802.3 L1606.8 799.9 L1607.5 797.6 L1608.3 795.3 L1609.1 793.0 L1609.8 790.6 L1610.6 788.3 L1611.3 786.0 L1612.1 783.7 L1612.8 781.3 L1613.6 779.0 L1614.3 776.7 L1615.1 774.4 L1615.8 772.0 L1616.5 769.7 L1617.3 767.4 L1618.0 765.0 L1618.7 762.7 L1619.4 760.4 L1620.2 758.0 L1620.9 755.7 L1621.6 753.4 L1622.3 751.0 L1623.0 748.7 L1623.7 746.4 L1624.4 744.0 L1625.1 741.7 L1625.8 739.4 L1626.5 737.0 L1627.2 734.7 L1627.9 732.3 L1628.6 730.0 L1629.3 727.7 L1630.0 725.3 L1630.7 723.0 L1631.4 720.6 L1632.1 718.3 L1632.7 716.0 L1633.4 713.6 L1634.1 711.3 L1634.8 708.9 L1635.4 706.6 L1636.1 704.3 L1636.8 701.9 L1637.4 699.6 L1638.1 697.2 L1638.7 694.9 L1639.4 692.5 L1640.1 690.2 L1640.7 687.8 L1641.4 685.5 L1642.0 683.1 L1642.7 680.8 L1643.3 678.4 L1643.9 676.1 L1644.6 673.7 L1645.2 671.4 L1645.9 669.0 L1646.5 666.7 L1647.1 664.3 L1647.7 662.0 L1648.4 659.6 L1649.0 657.3 L1649.6 654.9 L1650.2 652.6 L1650.9 650.2 L1651.5 647.8 L1652.1 645.5 L1652.7 643.1 L1653.3 640.8 L1653.9 638.4 L1654.5 636.1 L1655.1 633.7 L1655.8 631.3 L1656.4 629.0 L1657.0 626.6 L1657.6 624.3 L1658.2 621.9 L1658.7 619.5 L1659.3 617.2 L1659.9 614.8 L1660.5 612.5 L1661.1 610.1 L1661.7 607.7 L1662.3 605.4 L1662.9 603.0 L1663.4 600.6 L1664.0 598.3 L1664.6 595.9 L1665.2 593.5 L1665.8 591.2 L1666.3 588.8 L1666.9 586.4 L1667.5 584.1 L1668.0 581.7 L1668.6 579.3 L1669.2 577.0 L1669.7 574.6 L1670.3 572.2 L1670.9 569.9 L1671.4 567.5 L1672.0 565.1 L1672.5 562.8 L1673.1 560.4 L1673.6 558.0 L1674.2 555.6 L1674.7 553.3 L1675.3 550.9 L1675.8 548.5 L1676.4 546.2 L1676.9 543.8 L1677.5 541.4 L1678.0 539.0 L1678.5 536.7 L1679.1 534.3 L1679.6 531.9 L1680.2 529.5 L1680.7 527.1 L1681.2 524.8 L1681.8 522.4 L1682.3 520.0 L1682.8 517.6 L1683.3 515.3 L1683.9 512.9 L1684.4 510.5 L1684.9 508.1 L1685.4 505.7 L1686.0 503.4 L1686.5 501.0 L1687.0 498.6 L1687.5 496.2 L1688.0 493.8 L1688.6 491.5 L1689.1 489.1 L1689.6 486.7 L1690.1 484.3 L1690.6 481.9 L1691.1 479.5 L1691.6 477.2 L1692.1 474.8 L1692.7 472.4 L1693.2 470.0 L1693.7 467.6 L1694.2 465.2 L1694.7 462.8 L1695.2 460.5 L1695.7 458.1 L1696.2 455.7 L1696.7 453.3 L1697.2 450.9 L1697.7 448.5 L1698.2 446.1 L1698.7 443.7 L1699.2 441.3 L1699.7 439.0 L1700.2 436.6 L1700.6 434.2 L1701.1 431.8 L1701.6 429.4 L1702.1 427.0 L1702.6 424.6 L1703.1 422.2 L1703.6 419.8 L1704.1 417.4 L1704.6 415.0 L1705.0 412.7 L1705.5 410.3 L1706.0 407.9 L1706.5 405.5 L1707.0 403.1 L1707.5 400.7 L1707.9 398.3 L1708.4 395.9 L1708.9 393.5 L1709.4 391.1 L1709.9 388.7 L1710.3 386.3 L1710.8 383.9 L1711.3 381.5 L1711.8 379.1 L1712.2 376.7 L1712.7 374.3 L1713.2 371.9 L1713.7 369.5 L1714.1 367.1 L1714.6 364.7 L1715.1 362.3 L1715.5 359.9 L1716.0 357.5 L1716.5 355.1 L1717.0 352.7 L1717.4 350.3 L1717.9 347.9 L1718.4 345.5 L1718.8 343.1 L1719.3 340.7 L1719.8 338.3 L1720.2 335.9 L1720.7 333.5 L1721.2 331.1 L1721.6 328.7 L1722.1 326.3 L1722.6 323.9 L1723.0 321.5 L1723.5 319.1 L1724.0 316.7 L1724.4 314.3 L1724.9 311.9 L1725.4 309.5 L1725.8 307.1 L1726.3 304.7 L1726.7 302.3 L1727.2 299.9 L1727.7 297.5 L1728.1 295.1 L1728.6 292.6 L1729.1 290.2 L1729.5 287.8 L1730.0 285.4 L1730.5 283.0 L1730.9 280.6 L1731.4 278.2 L1731.8 275.8 L1732.3 273.4 L1732.8 271.0 L1733.2 268.6 L1733.7 266.2 L1734.1 263.8 L1734.6 261.3 L1735.1 258.9 L1735.5 256.5 L1736.0 254.1 L1736.5 251.7 L1736.9 249.3 L1737.4 246.9 L1737.8 244.5 L1738.3 242.1 L1738.8 239.7 L1739.2 237.2 L1739.7 234.8 L1740.2 232.4 L1740.6 230.0 L1741.1 227.6 L1741.5 225.2 L1742.2 223.0 L1742.8 220.6 L1743.2 218.3 L1743.8 216.0 L1744.2 213.7 L1744.8 211.4 L1745.2 209.1 L1745.8 206.8 L1746.2 204.5 L1746.8 202.2 L1747.2 199.9 L1747.8 197.6 L1748.2 195.4 L1748.8 193.0 L1749.2 190.7 L1749.8 188.4 L1750.2 186.2 L1750.8 183.9 L1751.2 181.7 L1751.8 179.6 L1752.2 177.5 L1752.8 175.5 L1753.5 172.7 L1754.2 170.0 L1755.0 167.4 L1755.8 164.9 L1756.5 162.4 L1757.2 160.0 L1758.0 157.5 L1758.8 155.0 L1759.5 152.5 L1760.2 149.9 L1761.0 147.5 L1761.8 145.1 L1762.5 142.9 L1763.2 140.7 L1764.0 138.8 L1764.8 136.9 L1765.8 134.5 L1766.8 132.2 L1767.8 129.9 L1768.8 127.5 L1769.8 125.2 L1770.8 122.9 L1771.8 120.6 L1772.8 118.3 L1773.8 116.1 L1774.8 114.0 L1775.8 112.1 L1777.0 110.0 L1778.2 108.1 L1779.5 106.4 L1781.0 104.6 L1782.5 103.2 L1784.5 102.3 L1786.5 102.1 L1788.5 102.1 L1790.5 102.4 L1792.5 103.2 L1794.2 104.6 L1795.8 106.4 L1797.0 108.4 L1798.0 110.4 L1799.0 112.7 L1800.0 115.1 L1800.8 117.1 L1801.5 119.1 L1802.2 121.2 L1803.0 123.4 L1803.8 125.6 L1804.5 127.9 L1805.2 130.4 L1806.0 133.0 L1806.8 135.8 L1807.2 137.8 L1807.8 139.8 L1808.2 141.9 L1808.5 143.0" stroke="#F9530B" stroke-width="8.6" stroke-linecap="butt"/>
<path d="M179.6 1360.5 L181.8 1360.4 L183.9 1360.4 L186.1 1360.4 L188.2 1360.3 L190.4 1360.3 L192.5 1360.3 L194.6 1360.3 L196.8 1360.2 L198.9 1360.2 L201.1 1360.2 L203.2 1360.1 L205.4 1360.1 L207.5 1360.1 L209.7 1360.0 L211.8 1360.0 L214.0 1360.0 L216.1 1360.0 L218.3 1359.9 L220.4 1359.9 L222.6 1359.9 L224.7 1359.9 L226.9 1359.8 L229.0 1359.8 L231.1 1359.8 L233.3 1359.7 L235.4 1359.7 L237.6 1359.7 L239.7 1359.7 L241.9 1359.6 L244.0 1359.6 L246.2 1359.6 L248.3 1359.5 L250.5 1359.5 L252.6 1359.5 L254.8 1359.5 L256.9 1359.4 L259.1 1359.4 L261.2 1359.4 L263.4 1359.4 L265.5 1359.3 L267.7 1359.3 L269.8 1359.3 L271.9 1359.3 L274.1 1359.2 L276.2 1359.2 L278.4 1359.2 L280.5 1359.1 L282.7 1359.1 L284.8 1359.1 L287.0 1359.1 L289.1 1359.0 L291.3 1359.0 L293.4 1359.0 L295.6 1359.0 L297.7 1358.9 L299.9 1358.9 L302.0 1358.9 L304.2 1358.9 L306.3 1358.8 L308.5 1358.8 L310.6 1358.8 L312.8 1358.8 L314.9 1358.7 L317.1 1358.7 L319.2 1358.7 L321.3 1358.6 L323.5 1358.6 L325.6 1358.6 L327.8 1358.6 L329.9 1358.5 L332.1 1358.5 L334.2 1358.5 L336.4 1358.5 L338.5 1358.4 L340.7 1358.4 L342.8 1358.4 L345.0 1358.4 L347.1 1358.3 L349.3 1358.3 L351.4 1358.3 L353.6 1358.2 L355.7 1358.2 L357.9 1358.2 L360.0 1358.2 L362.2 1358.1 L364.3 1358.1 L366.5 1358.1 L368.6 1358.0 L370.8 1358.0 L372.9 1358.0 L375.1 1358.0 L377.2 1357.9 L379.3 1357.9 L381.5 1357.9 L383.6 1357.9 L385.8 1357.8 L387.9 1357.8 L390.1 1357.8 L392.2 1357.7 L394.4 1357.7 L396.5 1357.7 L398.7 1357.6 L400.8 1357.6 L403.0 1357.6 L405.1 1357.6 L407.3 1357.5 L409.4 1357.5 L411.6 1357.5 L413.7 1357.4 L415.9 1357.4 L418.0 1357.4 L420.2 1357.3 L422.3 1357.3 L424.5 1357.3 L426.6 1357.3 L428.8 1357.2 L430.9 1357.2 L433.1 1357.2 L435.2 1357.1 L437.4 1357.1 L439.5 1357.1 L441.7 1357.0 L443.8 1357.0 L445.9 1357.0 L448.1 1356.9 L450.2 1356.9 L452.4 1356.9 L454.5 1356.8 L456.7 1356.8 L458.8 1356.8 L461.0 1356.7 L463.1 1356.7 L465.3 1356.7 L467.4 1356.6 L469.6 1356.6 L471.7 1356.6 L473.9 1356.5 L476.0 1356.5 L478.2 1356.4 L480.3 1356.4 L482.5 1356.4 L484.6 1356.3 L486.8 1356.3 L488.9 1356.3 L491.1 1356.2 L493.2 1356.2 L495.4 1356.1 L497.5 1356.1 L499.7 1356.1 L501.8 1356.0 L504.0 1356.0 L506.1 1356.0 L508.3 1355.9 L510.4 1355.9 L512.5 1355.8 L514.7 1355.8 L516.8 1355.8 L519.0 1355.7 L521.1 1355.7 L523.3 1355.6 L525.4 1355.6 L527.6 1355.5 L529.7 1355.5 L531.9 1355.5 L534.0 1355.4 L536.2 1355.4 L538.3 1355.3 L540.5 1355.3 L542.6 1355.2 L544.8 1355.2 L546.9 1355.2 L549.1 1355.1 L551.2 1355.1 L553.4 1355.0 L555.5 1355.0 L557.7 1354.9 L559.8 1354.9 L562.0 1354.8 L564.1 1354.8 L566.3 1354.7 L568.4 1354.7 L570.5 1354.6 L572.7 1354.6 L574.8 1354.5 L577.0 1354.5 L579.1 1354.4 L581.3 1354.4 L583.4 1354.3 L585.6 1354.3 L587.7 1354.2 L589.9 1354.2 L592.0 1354.1 L594.2 1354.1 L596.3 1354.0 L598.5 1354.0 L600.6 1353.9 L602.8 1353.9 L604.9 1353.8 L607.1 1353.8 L609.2 1353.7 L611.4 1353.6 L613.5 1353.6 L615.7 1353.5 L617.8 1353.5 L619.9 1353.4 L622.1 1353.4 L624.2 1353.3 L626.4 1353.2 L628.5 1353.2 L630.7 1353.1 L632.8 1353.1 L635.0 1353.0 L637.1 1352.9 L639.3 1352.9 L641.4 1352.8 L643.6 1352.8 L645.7 1352.7 L647.9 1352.6 L650.0 1352.6 L652.2 1352.5 L654.3 1352.4 L656.5 1352.4 L658.6 1352.3 L660.8 1352.2 L662.9 1352.2 L665.0 1352.1 L667.2 1352.0 L669.3 1352.0 L671.5 1351.9 L673.6 1351.8 L675.8 1351.8 L677.9 1351.7 L680.1 1351.6 L682.2 1351.6 L684.4 1351.5 L686.5 1351.4 L688.7 1351.4 L690.8 1351.3 L693.0 1351.2 L695.1 1351.1 L697.3 1351.1 L699.4 1351.0 L701.5 1350.9 L703.7 1350.8 L705.8 1350.8 L708.0 1350.7 L710.1 1350.6 L712.3 1350.5 L714.4 1350.5 L716.6 1350.4 L718.7 1350.3 L720.9 1350.2 L723.0 1350.1 L725.2 1350.1 L727.3 1350.0 L729.5 1349.9 L731.6 1349.8 L733.7 1349.7 L735.9 1349.6 L738.0 1349.6 L740.2 1349.5 L742.3 1349.4 L744.5 1349.3 L746.6 1349.2 L748.8 1349.1 L750.9 1349.0 L753.1 1349.0 L755.2 1348.9 L757.4 1348.8 L759.5 1348.7 L761.6 1348.6 L763.8 1348.5 L765.9 1348.4 L768.1 1348.3 L770.2 1348.2 L772.4 1348.1 L774.5 1348.0 L776.7 1347.9 L778.8 1347.8 L781.0 1347.8 L783.1 1347.7 L785.2 1347.6 L787.4 1347.5 L789.5 1347.4 L791.7 1347.3 L793.8 1347.2 L796.0 1347.1 L798.1 1347.0 L800.3 1346.9 L802.4 1346.8 L804.6 1346.7 L806.7 1346.6 L808.8 1346.5 L811.0 1346.3 L813.1 1346.2 L815.3 1346.1 L817.4 1346.0 L819.6 1345.9 L821.7 1345.8 L823.9 1345.7 L826.0 1345.6 L828.2 1345.5 L830.3 1345.4 L832.4 1345.3 L834.6 1345.2 L836.7 1345.0 L838.9 1344.9 L841.0 1344.8 L843.2 1344.7 L845.3 1344.6 L847.5 1344.5 L849.6 1344.3 L851.7 1344.2 L853.9 1344.1 L856.0 1344.0 L858.2 1343.9 L860.3 1343.8 L862.5 1343.6 L864.6 1343.5 L866.8 1343.4 L868.9 1343.3 L871.0 1343.1 L873.2 1343.0 L875.3 1342.9 L877.5 1342.8 L879.6 1342.6 L881.8 1342.5 L883.9 1342.4 L886.0 1342.2 L888.2 1342.1 L890.3 1342.0 L892.5 1341.9 L894.6 1341.7 L896.8 1341.6 L898.9 1341.5 L901.0 1341.3 L903.2 1341.2 L905.3 1341.0 L907.5 1340.9 L909.6 1340.8 L911.8 1340.6 L913.9 1340.5 L916.1 1340.4 L918.2 1340.2 L920.3 1340.1 L922.5 1339.9 L924.6 1339.8 L926.8 1339.6 L928.9 1339.5 L931.1 1339.4 L933.2 1339.2 L935.3 1339.1 L937.5 1338.9 L939.6 1338.8 L941.8 1338.6 L943.9 1338.5 L946.0 1338.3 L948.2 1338.2 L950.3 1338.0 L952.5 1337.9 L954.6 1337.7 L956.8 1337.5 L958.9 1337.4 L961.0 1337.2 L963.2 1337.1 L965.3 1336.9 L967.5 1336.8 L969.6 1336.6 L971.8 1336.4 L973.9 1336.3 L976.0 1336.1 L978.2 1335.9 L980.3 1335.8 L982.5 1335.6 L984.6 1335.4 L986.7 1335.3 L988.9 1335.1 L991.0 1334.9 L993.2 1334.8 L995.3 1334.6 L997.4 1334.4 L999.6 1334.2 L1001.7 1334.1 L1003.9 1333.9 L1006.0 1333.7 L1008.2 1333.5 L1010.3 1333.4 L1012.4 1333.2 L1014.6 1333.0 L1016.7 1332.8 L1018.9 1332.6 L1021.0 1332.5 L1023.1 1332.3 L1025.3 1332.1 L1027.4 1331.9 L1029.5 1331.7 L1031.7 1331.5 L1033.8 1331.3 L1036.0 1331.1 L1038.1 1330.9 L1040.2 1330.7 L1042.4 1330.5 L1044.5 1330.3 L1046.7 1330.1 L1048.8 1329.8 L1050.9 1329.6 L1053.1 1329.4 L1055.2 1329.2 L1057.3 1328.9 L1059.5 1328.7 L1061.6 1328.5 L1063.7 1328.2 L1065.9 1328.0 L1068.0 1327.7 L1070.1 1327.5 L1072.3 1327.2 L1074.4 1326.9 L1076.5 1326.7 L1078.6 1326.4 L1080.8 1326.1 L1082.9 1325.8 L1085.0 1325.5 L1087.2 1325.3 L1089.3 1325.0 L1091.4 1324.7 L1093.5 1324.3 L1095.7 1324.0 L1097.8 1323.7 L1099.9 1323.4 L1102.0 1323.1 L1104.2 1322.7 L1106.3 1322.4 L1108.4 1322.0 L1110.5 1321.7 L1112.6 1321.4 L1114.8 1321.0 L1116.9 1320.7 L1119.0 1320.3 L1121.1 1320.0 L1123.2 1319.6 L1125.4 1319.3 L1127.5 1318.9 L1129.6 1318.5 L1131.7 1318.2 L1133.8 1317.9 L1136.0 1317.5 L1138.1 1317.2 L1140.2 1316.8 L1142.3 1316.5 L1144.4 1316.1 L1146.6 1315.8 L1148.7 1315.5 L1150.8 1315.2 L1152.9 1314.8 L1155.1 1314.5 L1157.2 1314.2 L1159.3 1313.9 L1161.4 1313.6 L1163.6 1313.3 L1165.7 1313.1 L1167.8 1312.8 L1169.9 1312.5 L1172.1 1312.3 L1174.2 1312.0 L1176.3 1311.8 L1178.5 1311.5 L1180.6 1311.3 L1182.7 1311.0 L1184.8 1310.7 L1187.0 1310.5 L1189.1 1310.2 L1191.2 1309.9 L1193.3 1309.6 L1195.4 1309.3 L1197.5 1308.9 L1199.6 1308.6 L1201.7 1308.2 L1203.8 1307.8 L1205.9 1307.3 L1208.0 1306.9 L1210.1 1306.4 L1212.2 1305.8 L1214.2 1305.3 L1216.3 1304.7 L1218.4 1304.1 L1220.4 1303.4 L1222.5 1302.8 L1224.5 1302.1 L1226.6 1301.4 L1228.6 1300.7 L1230.6 1300.0 L1232.7 1299.3 L1234.7 1298.5 L1236.7 1297.8 L1238.8 1297.0 L1240.8 1296.2 L1242.8 1295.5 L1244.8 1294.7 L1246.9 1294.0 L1248.9 1293.2 L1250.9 1292.4 L1252.9 1291.7 L1254.9 1290.9 L1256.9 1290.2 L1259.0 1289.5 L1261.0 1288.9 L1263.1 1288.3 L1265.1 1287.9 L1267.2 1287.6 L1269.4 1287.5 L1271.6 1287.5 L1273.7 1287.5 L1275.9 1287.4 L1278.0 1287.3 L1280.1 1286.9 L1282.1 1286.3 L1284.1 1285.5 L1286.0 1284.5 L1288.0 1283.5 L1289.9 1282.5 L1291.9 1281.6 L1293.9 1280.9 L1296.0 1280.4 L1298.1 1280.0 L1300.2 1279.7 L1302.3 1279.5 L1304.5 1279.3 L1306.7 1279.2 L1308.8 1279.1 L1311.0 1279.0 L1313.1 1278.8 L1315.3 1278.6 L1317.4 1278.2 L1319.4 1277.8 L1321.5 1277.2 L1323.5 1276.5 L1325.5 1275.8 L1327.4 1275.0 L1329.4 1274.1 L1331.4 1273.3 L1333.3 1272.4 L1335.3 1271.5 L1337.3 1270.6 L1339.3 1269.7 L1341.3 1268.9 L1343.3 1268.2 L1345.3 1267.5 L1347.4 1266.9 L1349.5 1266.2 L1351.5 1265.6 L1353.5 1264.9 L1355.5 1264.2 L1357.5 1263.5 L1359.5 1262.6 L1361.4 1261.7 L1363.2 1260.6 L1365.0 1259.5 L1366.8 1258.2 L1368.4 1256.7 L1370.0 1255.2 L1371.4 1253.5 L1372.8 1251.7 L1374.0 1249.8 L1375.1 1247.9 L1376.2 1246.0 L1377.3 1244.2 L1378.5 1242.5 L1380.2 1241.0 L1382.3 1239.8 L1384.2 1239.1 L1386.3 1238.5 L1388.4 1238.1 L1390.7 1237.7 L1392.9 1237.4 L1395.1 1236.9 L1397.3 1236.4 L1399.5 1235.8 L1401.6 1235.1 L1403.6 1234.2 L1405.6 1233.3 L1407.5 1232.3 L1409.3 1231.2 L1411.1 1230.0 L1412.9 1228.8 L1414.5 1227.4 L1416.1 1226.0 L1417.6 1224.6 L1419.1 1223.0 L1420.4 1221.4 L1421.7 1219.7 L1423.0 1218.0 L1424.2 1216.3 L1425.4 1214.5 L1426.6 1212.7 L1427.8 1210.8 L1428.9 1209.0 L1430.0 1207.2 L1431.2 1205.3 L1432.3 1203.5 L1433.5 1201.7 L1434.7 1199.9 L1436.0 1198.2 L1437.3 1196.5 L1438.6 1194.8 L1440.0 1193.2 L1441.5 1191.7 L1443.0 1190.2 L1444.6 1188.7 L1446.2 1187.3 L1447.8 1185.9 L1449.4 1184.5 L1451.0 1183.1 L1452.6 1181.6 L1454.1 1180.2 L1455.6 1178.7 L1457.0 1177.1 L1458.3 1175.4 L1459.5 1173.7 L1460.6 1171.9 L1461.7 1170.1 L1462.7 1168.2 L1463.6 1166.2 L1464.5 1164.2 L1465.3 1162.2 L1466.1 1160.2 L1466.9 1158.1 L1467.6 1156.0 L1468.3 1154.0 L1469.1 1151.9 L1469.8 1149.8 L1470.6 1147.8 L1471.4 1145.7 L1472.2 1143.7 L1473.0 1141.8 L1473.9 1139.8 L1474.9 1137.9 L1475.9 1136.0 L1477.0 1134.2 L1478.1 1132.5 L1479.4 1130.8 L1480.7 1129.1 L1482.1 1127.5 L1483.6 1126.0 L1485.1 1124.4 L1486.7 1122.9 L1488.2 1121.4 L1489.7 1119.8 L1491.1 1118.2 L1492.5 1116.6 L1493.8 1115.0 L1495.1 1113.3 L1496.4 1111.6 L1497.6 1109.9 L1498.8 1108.1 L1499.9 1106.4 L1501.0 1104.6 L1502.1 1102.7 L1503.1 1100.9 L1504.1 1099.0 L1505.1 1097.1 L1506.1 1095.2 L1507.0 1093.3 L1507.9 1091.4 L1508.8 1089.4 L1509.6 1087.5 L1510.5 1085.5 L1511.4 1083.5 L1512.2 1081.5 L1513.1 1079.5 L1514.0 1077.5 L1514.8 1075.5 L1515.7 1073.5 L1516.7 1071.5 L1517.6 1069.5 L1518.7 1067.6 L1519.7 1065.7 L1520.9 1063.9 L1522.1 1062.2 L1523.4 1060.6 L1524.9 1059.2 L1526.4 1057.8 L1528.1 1056.7 L1529.9 1055.6 L1531.8 1054.8 L1533.9 1054.0 L1536.0 1053.3 L1538.1 1052.7 L1540.3 1052.2 L1542.5 1051.6 L1544.7 1051.0 L1546.9 1050.4 L1549.0 1049.8 L1551.1 1049.1 L1553.2 1048.4 L1555.2 1047.6 L1557.0 1046.7 L1558.8 1045.7 L1560.8 1044.4 L1562.6 1042.8 L1564.1 1041.1 L1565.5 1039.2 L1566.5 1037.4 L1567.4 1035.5 L1568.2 1033.6 L1568.9 1031.6 L1569.5 1029.5 L1570.1 1027.3 L1570.7 1025.2 L1571.2 1023.0 L1571.8 1020.8 L1572.3 1018.6 L1572.9 1016.5 L1573.5 1014.3 L1574.2 1012.3 L1574.8 1010.2 L1575.5 1008.2 L1576.2 1006.1 L1576.9 1004.1 L1577.7 1002.1 L1578.4 1000.2 L1579.1 998.2 L1579.9 996.2 L1580.6 994.2 L1581.4 992.3 L1582.1 990.3 L1582.8 988.3 L1583.5 986.3 L1584.2 984.2 L1584.8 982.2 L1585.5 980.1 L1586.1 978.0 L1586.7 976.0 L1587.3 973.9 L1588.0 971.8 L1588.7 969.7 L1589.4 967.7 L1590.3 965.7 L1591.2 963.8 L1592.2 961.9 L1593.3 960.1 L1594.6 958.4 L1595.9 956.7 L1597.5 955.2 L1599.1 953.7 L1600.7 952.2 L1602.2 950.6 L1603.6 949.0 L1604.8 947.3 L1605.8 945.4 L1606.6 943.5 L1607.2 941.4 L1607.8 939.3 L1608.3 937.2 L1608.8 935.1 L1609.4 933.0 L1609.9 930.9 L1610.5 928.8 L1611.0 926.7 L1611.6 924.6 L1612.1 922.5 L1612.7 920.4 L1613.3 918.4 L1613.9 916.3 L1614.4 914.2 L1615.0 912.2 L1615.6 910.1 L1616.2 908.0 L1616.8 906.0 L1617.4 903.9 L1618.0 901.9 L1618.5 899.8 L1619.1 897.7 L1619.7 895.7 L1620.3 893.6 L1620.8 891.5 L1621.4 889.5 L1622.0 887.4 L1622.6 885.3 L1623.1 883.3 L1623.7 881.2 L1624.3 879.1 L1624.9 877.1 L1625.5 875.0 L1626.1 873.0 L1626.7 870.9 L1627.4 868.9 L1628.0 866.8 L1628.7 864.8 L1629.3 862.7 L1630.0 860.7 L1630.7 858.7 L1631.5 856.7 L1632.2 854.7 L1633.0 852.7 L1633.8 850.7 L1634.6 848.7 L1635.4 846.7 L1636.2 844.8 L1637.1 842.8 L1638.0 840.8 L1638.9 838.9 L1639.8 837.0 L1640.7 835.0 L1641.6 833.1 L1642.5 831.1 L1643.5 829.2 L1644.4 827.3 L1645.3 825.3 L1646.2 823.4 L1647.1 821.4 L1648.0 819.5 L1648.9 817.5 L1649.8 815.6 L1650.7 813.6 L1651.5 811.6 L1652.3 809.7 L1653.1 807.7 L1653.9 805.7 L1654.7 803.7 L1655.4 801.6 L1656.2 799.6 L1656.9 797.6 L1657.6 795.6 L1658.4 793.6 L1659.1 791.5 L1659.8 789.5 L1660.5 787.5 L1661.2 785.4 L1662.0 783.4 L1662.7 781.4 L1663.4 779.4 L1664.2 777.4 L1665.0 775.4 L1665.8 773.4 L1666.6 771.4 L1667.5 769.4 L1668.3 767.5 L1669.2 765.5 L1670.2 763.6 L1671.2 761.7 L1672.2 759.8 L1673.2 757.9 L1674.2 756.1 L1675.2 754.2 L1676.3 752.3 L1677.3 750.4 L1678.4 748.6 L1679.4 746.7 L1680.4 744.8 L1681.4 742.9 L1682.3 741.1 L1683.3 739.1 L1684.1 737.2 L1685.0 735.3 L1685.8 733.3 L1686.5 731.4 L1687.2 729.4 L1687.9 727.4 L1688.5 725.3 L1689.0 723.3 L1689.5 721.2 L1690.0 719.1 L1690.4 717.0 L1690.8 714.9 L1691.2 712.8 L1691.6 710.7 L1691.9 708.6 L1692.2 706.4 L1692.5 704.3 L1692.8 702.1 L1693.1 700.0 L1693.4 697.8 L1693.7 695.7 L1694.0 693.5 L1694.3 691.3 L1694.6 689.2 L1695.0 687.1 L1695.3 684.9 L1695.7 682.8 L1696.1 680.7 L1696.5 678.6 L1697.0 676.5 L1697.4 674.4 L1697.9 672.3 L1698.4 670.2 L1699.0 668.1 L1699.5 666.1 L1700.0 664.0 L1700.5 661.9 L1701.1 659.9 L1701.6 657.8 L1702.1 655.7 L1702.7 653.7 L1703.2 651.6 L1703.7 649.5 L1704.1 647.4 L1704.6 645.3 L1705.0 643.2 L1705.5 641.1 L1705.9 639.0 L1706.3 636.9 L1706.6 634.8 L1707.0 632.6 L1707.4 630.5 L1707.8 628.3 L1708.2 626.2 L1708.7 624.1 L1709.1 621.9 L1709.6 619.8 L1710.1 617.7 L1710.7 615.5 L1711.4 613.5 L1712.2 611.5 L1713.1 609.8 L1714.6 607.9 L1716.4 606.4 L1718.2 605.6 L1720.3 605.0 L1722.5 604.6 L1724.6 604.0 L1726.7 603.0 L1728.1 601.2 L1728.9 599.3 L1729.3 597.1 L1729.6 594.8 L1729.8 592.3 L1730.1 589.9 L1730.4 587.6 L1730.8 585.4 L1731.4 583.2 L1731.9 581.1 L1732.5 579.1 L1733.2 577.1 L1733.9 575.1 L1734.5 573.1 L1735.2 571.2 L1735.8 569.2 L1736.4 567.2 L1737.0 565.1 L1737.5 563.0 L1737.9 560.8 L1738.4 558.7 L1739.0 556.6 L1739.6 554.6 L1740.4 552.6 L1741.3 550.8 L1742.4 549.0 L1743.7 547.2 L1744.9 545.4 L1746.2 543.5 L1747.4 541.4 L1748.5 539.2 L1749.6 537.0 L1750.8 535.1 L1752.3 533.5 L1754.5 533.1 L1756.6 534.2 L1758.6 535.4 L1760.6 536.5 L1762.8 536.8 L1764.7 536.0 L1766.4 534.6 L1768.0 532.9 L1769.3 530.9 L1770.2 529.2 L1771.1 527.3 L1771.9 525.3 L1772.6 523.3 L1773.3 521.2 L1773.9 519.0 L1774.5 516.8 L1775.0 514.6 L1775.6 512.3 L1776.2 510.1 L1776.9 507.9 L1777.5 505.7 L1778.3 503.6 L1779.1 501.6 L1780.1 499.7 L1781.1 497.8 L1782.2 496.1 L1783.5 494.5 L1785.0 493.1 L1786.6 491.9 L1788.4 490.8 L1790.4 489.9 L1792.5 489.3 L1794.7 488.9 L1796.9 488.8 L1799.1 489.0 L1801.1 489.6 L1803.0 490.6 L1804.6 492.0 L1806.0 493.8 L1806.9 495.7 L1807.5 497.8 L1807.7 499.0" stroke="#F9530B" stroke-width="8.6" stroke-dasharray="7.3 5.45"/>
<path d="M179.6 1365.5 L181.8 1365.5 L183.9 1365.4 L186.1 1365.4 L188.2 1365.4 L190.4 1365.4 L192.5 1365.4 L194.6 1365.4 L196.8 1365.3 L198.9 1365.3 L201.1 1365.3 L203.2 1365.3 L205.4 1365.3 L207.5 1365.2 L209.7 1365.2 L211.8 1365.2 L214.0 1365.2 L216.1 1365.2 L218.3 1365.2 L220.4 1365.1 L222.6 1365.1 L224.7 1365.1 L226.9 1365.1 L229.0 1365.1 L231.1 1365.1 L233.3 1365.0 L235.4 1365.0 L237.6 1365.0 L239.7 1365.0 L241.9 1365.0 L244.0 1365.0 L246.2 1364.9 L248.3 1364.9 L250.5 1364.9 L252.6 1364.9 L254.8 1364.9 L256.9 1364.9 L259.1 1364.8 L261.2 1364.8 L263.4 1364.8 L265.5 1364.8 L267.7 1364.8 L269.8 1364.8 L271.9 1364.8 L274.1 1364.7 L276.2 1364.7 L278.4 1364.7 L280.5 1364.7 L282.7 1364.7 L284.8 1364.7 L287.0 1364.6 L289.1 1364.6 L291.3 1364.6 L293.4 1364.6 L295.6 1364.6 L297.7 1364.6 L299.9 1364.5 L302.0 1364.5 L304.2 1364.5 L306.3 1364.5 L308.5 1364.5 L310.6 1364.5 L312.8 1364.5 L314.9 1364.4 L317.1 1364.4 L319.2 1364.4 L321.3 1364.4 L323.5 1364.4 L325.6 1364.4 L327.8 1364.3 L329.9 1364.3 L332.1 1364.3 L334.2 1364.3 L336.4 1364.3 L338.5 1364.3 L340.7 1364.2 L342.8 1364.2 L345.0 1364.2 L347.1 1364.2 L349.3 1364.2 L351.4 1364.2 L353.6 1364.1 L355.7 1364.1 L357.9 1364.1 L360.0 1364.1 L362.2 1364.1 L364.3 1364.1 L366.5 1364.0 L368.6 1364.0 L370.8 1364.0 L372.9 1364.0 L375.1 1364.0 L377.2 1364.0 L379.3 1363.9 L381.5 1363.9 L383.6 1363.9 L385.8 1363.9 L387.9 1363.9 L390.1 1363.9 L392.2 1363.8 L394.4 1363.8 L396.5 1363.8 L398.7 1363.8 L400.8 1363.8 L403.0 1363.8 L405.1 1363.7 L407.3 1363.7 L409.4 1363.7 L411.6 1363.7 L413.7 1363.7 L415.9 1363.6 L418.0 1363.6 L420.2 1363.6 L422.3 1363.6 L424.5 1363.6 L426.6 1363.6 L428.8 1363.5 L430.9 1363.5 L433.1 1363.5 L435.2 1363.5 L437.4 1363.5 L439.5 1363.4 L441.7 1363.4 L443.8 1363.4 L445.9 1363.4 L448.1 1363.4 L450.2 1363.3 L452.4 1363.3 L454.5 1363.3 L456.7 1363.3 L458.8 1363.3 L461.0 1363.2 L463.1 1363.2 L465.3 1363.2 L467.4 1363.2 L469.6 1363.2 L471.7 1363.1 L473.9 1363.1 L476.0 1363.1 L478.2 1363.1 L480.3 1363.0 L482.5 1363.0 L484.6 1363.0 L486.8 1363.0 L488.9 1363.0 L491.1 1362.9 L493.2 1362.9 L495.4 1362.9 L497.5 1362.9 L499.7 1362.8 L501.8 1362.8 L504.0 1362.8 L506.1 1362.8 L508.3 1362.7 L510.4 1362.7 L512.5 1362.7 L514.7 1362.7 L516.8 1362.7 L519.0 1362.6 L521.1 1362.6 L523.3 1362.6 L525.4 1362.6 L527.6 1362.5 L529.7 1362.5 L531.9 1362.5 L534.0 1362.4 L536.2 1362.4 L538.3 1362.4 L540.5 1362.4 L542.6 1362.3 L544.8 1362.3 L546.9 1362.3 L549.1 1362.3 L551.2 1362.2 L553.4 1362.2 L555.5 1362.2 L557.7 1362.2 L559.8 1362.1 L562.0 1362.1 L564.1 1362.1 L566.3 1362.0 L568.4 1362.0 L570.5 1362.0 L572.7 1362.0 L574.8 1361.9 L577.0 1361.9 L579.1 1361.9 L581.3 1361.8 L583.4 1361.8 L585.6 1361.8 L587.7 1361.7 L589.9 1361.7 L592.0 1361.7 L594.2 1361.6 L596.3 1361.6 L598.5 1361.6 L600.6 1361.6 L602.8 1361.5 L604.9 1361.5 L607.1 1361.5 L609.2 1361.4 L611.4 1361.4 L613.5 1361.4 L615.7 1361.3 L617.8 1361.3 L619.9 1361.3 L622.1 1361.2 L624.2 1361.2 L626.4 1361.1 L628.5 1361.1 L630.7 1361.1 L632.8 1361.0 L635.0 1361.0 L637.1 1361.0 L639.3 1360.9 L641.4 1360.9 L643.6 1360.9 L645.7 1360.8 L647.9 1360.8 L650.0 1360.7 L652.2 1360.7 L654.3 1360.7 L656.5 1360.6 L658.6 1360.6 L660.8 1360.5 L662.9 1360.5 L665.0 1360.5 L667.2 1360.4 L669.3 1360.4 L671.5 1360.3 L673.6 1360.3 L675.8 1360.3 L677.9 1360.2 L680.1 1360.2 L682.2 1360.1 L684.4 1360.1 L686.5 1360.1 L688.7 1360.0 L690.8 1360.0 L693.0 1359.9 L695.1 1359.9 L697.3 1359.8 L699.4 1359.8 L701.5 1359.7 L703.7 1359.7 L705.8 1359.7 L708.0 1359.6 L710.1 1359.6 L712.3 1359.5 L714.4 1359.5 L716.6 1359.4 L718.7 1359.4 L720.9 1359.3 L723.0 1359.3 L725.2 1359.2 L727.3 1359.2 L729.5 1359.1 L731.6 1359.1 L733.7 1359.0 L735.9 1359.0 L738.0 1358.9 L740.2 1358.9 L742.3 1358.8 L744.5 1358.8 L746.6 1358.7 L748.8 1358.7 L750.9 1358.6 L753.1 1358.6 L755.2 1358.5 L757.4 1358.5 L759.5 1358.4 L761.6 1358.4 L763.8 1358.3 L765.9 1358.2 L768.1 1358.2 L770.2 1358.1 L772.4 1358.1 L774.5 1358.0 L776.7 1358.0 L778.8 1357.9 L781.0 1357.9 L783.1 1357.8 L785.2 1357.7 L787.4 1357.7 L789.5 1357.6 L791.7 1357.6 L793.8 1357.5 L796.0 1357.4 L798.1 1357.4 L800.3 1357.3 L802.4 1357.3 L804.6 1357.2 L806.7 1357.1 L808.8 1357.1 L811.0 1357.0 L813.1 1356.9 L815.3 1356.9 L817.4 1356.8 L819.6 1356.8 L821.7 1356.7 L823.9 1356.6 L826.0 1356.6 L828.2 1356.5 L830.3 1356.4 L832.4 1356.4 L834.6 1356.3 L836.7 1356.2 L838.9 1356.2 L841.0 1356.1 L843.2 1356.0 L845.3 1355.9 L847.5 1355.9 L849.6 1355.8 L851.7 1355.7 L853.9 1355.7 L856.0 1355.6 L858.2 1355.5 L860.3 1355.5 L862.5 1355.4 L864.6 1355.3 L866.8 1355.2 L868.9 1355.2 L871.0 1355.1 L873.2 1355.0 L875.3 1354.9 L877.5 1354.9 L879.6 1354.8 L881.8 1354.7 L883.9 1354.6 L886.0 1354.5 L888.2 1354.5 L890.3 1354.4 L892.5 1354.3 L894.6 1354.2 L896.8 1354.2 L898.9 1354.1 L901.0 1354.0 L903.2 1353.9 L905.3 1353.8 L907.5 1353.7 L909.6 1353.7 L911.8 1353.6 L913.9 1353.5 L916.1 1353.4 L918.2 1353.3 L920.3 1353.2 L922.5 1353.2 L924.6 1353.1 L926.8 1353.0 L928.9 1352.9 L931.1 1352.8 L933.2 1352.7 L935.3 1352.6 L937.5 1352.5 L939.6 1352.5 L941.8 1352.4 L943.9 1352.3 L946.0 1352.2 L948.2 1352.1 L950.3 1352.0 L952.5 1351.9 L954.6 1351.8 L956.8 1351.7 L958.9 1351.6 L961.0 1351.5 L963.2 1351.4 L965.3 1351.3 L967.5 1351.3 L969.6 1351.2 L971.8 1351.1 L973.9 1351.0 L976.0 1350.9 L978.2 1350.8 L980.3 1350.7 L982.5 1350.6 L984.6 1350.5 L986.7 1350.4 L988.9 1350.3 L991.0 1350.2 L993.2 1350.1 L995.3 1350.0 L997.4 1349.9 L999.6 1349.7 L1001.7 1349.6 L1003.9 1349.5 L1006.0 1349.4 L1008.2 1349.3 L1010.3 1349.2 L1012.4 1349.1 L1014.6 1349.0 L1016.7 1348.9 L1018.9 1348.8 L1021.0 1348.7 L1023.1 1348.6 L1025.3 1348.4 L1027.4 1348.3 L1029.5 1348.2 L1031.7 1348.1 L1033.8 1348.0 L1036.0 1347.9 L1038.1 1347.7 L1040.2 1347.6 L1042.4 1347.5 L1044.5 1347.4 L1046.7 1347.2 L1048.8 1347.1 L1050.9 1347.0 L1053.1 1346.8 L1055.2 1346.7 L1057.3 1346.6 L1059.5 1346.4 L1061.6 1346.3 L1063.7 1346.1 L1065.9 1346.0 L1068.0 1345.8 L1070.1 1345.7 L1072.3 1345.5 L1074.4 1345.4 L1076.5 1345.2 L1078.6 1345.0 L1080.8 1344.9 L1082.9 1344.7 L1085.0 1344.5 L1087.2 1344.4 L1089.3 1344.2 L1091.4 1344.0 L1093.5 1343.8 L1095.7 1343.6 L1097.8 1343.4 L1099.9 1343.2 L1102.0 1343.0 L1104.2 1342.8 L1106.3 1342.6 L1108.4 1342.4 L1110.5 1342.2 L1112.6 1342.0 L1114.8 1341.8 L1116.9 1341.6 L1119.0 1341.4 L1121.1 1341.2 L1123.2 1341.0 L1125.4 1340.8 L1127.5 1340.5 L1129.6 1340.3 L1131.7 1340.1 L1133.8 1339.9 L1136.0 1339.7 L1138.1 1339.5 L1140.2 1339.3 L1142.3 1339.1 L1144.4 1338.9 L1146.6 1338.7 L1148.7 1338.5 L1150.8 1338.3 L1152.9 1338.1 L1155.1 1337.9 L1157.2 1337.7 L1159.3 1337.6 L1161.4 1337.4 L1163.6 1337.2 L1165.7 1337.0 L1167.8 1336.9 L1169.9 1336.7 L1172.1 1336.6 L1174.2 1336.4 L1176.3 1336.3 L1178.5 1336.1 L1180.6 1336.0 L1182.7 1335.8 L1184.8 1335.6 L1187.0 1335.5 L1189.1 1335.3 L1191.2 1335.1 L1193.3 1335.0 L1195.4 1334.8 L1197.5 1334.6 L1199.6 1334.3 L1201.7 1334.1 L1203.8 1333.9 L1205.9 1333.6 L1208.0 1333.3 L1210.1 1333.0 L1212.2 1332.7 L1214.2 1332.4 L1216.3 1332.0 L1218.4 1331.6 L1220.4 1331.3 L1222.5 1330.9 L1224.5 1330.5 L1226.6 1330.0 L1228.6 1329.6 L1230.6 1329.2 L1232.7 1328.8 L1234.7 1328.3 L1236.7 1327.9 L1238.8 1327.4 L1240.8 1326.9 L1242.8 1326.5 L1244.8 1326.0 L1246.9 1325.6 L1248.9 1325.1 L1250.9 1324.7 L1252.9 1324.2 L1254.9 1323.8 L1256.9 1323.3 L1259.0 1322.9 L1261.0 1322.5 L1263.1 1322.2 L1265.1 1321.9 L1267.2 1321.8 L1269.4 1321.7 L1271.6 1321.7 L1273.7 1321.7 L1275.9 1321.7 L1278.0 1321.6 L1280.1 1321.3 L1282.1 1321.0 L1284.1 1320.5 L1286.0 1319.9 L1288.0 1319.3 L1289.9 1318.7 L1291.9 1318.2 L1293.9 1317.7 L1296.0 1317.4 L1298.1 1317.2 L1300.2 1317.0 L1302.3 1316.9 L1304.5 1316.8 L1306.7 1316.7 L1308.8 1316.7 L1311.0 1316.6 L1313.1 1316.5 L1315.3 1316.3 L1317.4 1316.1 L1319.4 1315.9 L1321.5 1315.5 L1323.5 1315.1 L1325.5 1314.7 L1327.4 1314.2 L1329.4 1313.7 L1331.4 1313.2 L1333.3 1312.6 L1335.3 1312.1 L1337.3 1311.5 L1339.3 1311.0 L1341.3 1310.6 L1343.3 1310.1 L1345.3 1309.7 L1347.4 1309.3 L1349.5 1308.9 L1351.5 1308.6 L1353.5 1308.2 L1355.5 1307.7 L1357.5 1307.3 L1359.5 1306.8 L1361.4 1306.2 L1363.2 1305.6 L1365.0 1304.9 L1366.8 1304.1 L1368.4 1303.2 L1370.0 1302.3 L1371.4 1301.3 L1372.8 1300.2 L1374.0 1299.1 L1375.1 1297.9 L1376.2 1296.8 L1377.3 1295.7 L1378.5 1294.7 L1380.2 1293.8 L1382.3 1293.1 L1384.2 1292.6 L1386.3 1292.3 L1388.4 1292.1 L1390.7 1291.8 L1392.9 1291.6 L1395.1 1291.4 L1397.3 1291.0 L1399.5 1290.7 L1401.6 1290.2 L1403.6 1289.7 L1405.6 1289.2 L1407.5 1288.6 L1409.3 1287.9 L1411.1 1287.2 L1412.9 1286.5 L1414.5 1285.7 L1416.1 1284.8 L1417.6 1283.9 L1419.1 1283.0 L1420.4 1282.0 L1421.7 1281.0 L1423.0 1280.0 L1424.2 1279.0 L1425.4 1277.9 L1426.6 1276.8 L1427.8 1275.7 L1428.9 1274.6 L1430.0 1273.5 L1431.2 1272.4 L1432.3 1271.3 L1433.5 1270.2 L1434.7 1269.2 L1436.0 1268.1 L1437.3 1267.1 L1438.6 1266.1 L1440.0 1265.1 L1441.5 1264.2 L1443.0 1263.3 L1444.6 1262.4 L1446.2 1261.6 L1447.8 1260.7 L1449.4 1259.9 L1451.0 1259.0 L1452.6 1258.2 L1454.1 1257.3 L1455.6 1256.4 L1457.0 1255.5 L1458.3 1254.5 L1459.5 1253.4 L1460.6 1252.4 L1461.7 1251.3 L1462.7 1250.1 L1463.6 1248.9 L1464.5 1247.7 L1465.3 1246.5 L1466.1 1245.3 L1466.9 1244.1 L1467.6 1242.8 L1468.3 1241.6 L1469.1 1240.3 L1469.8 1239.1 L1470.6 1237.9 L1471.4 1236.6 L1472.2 1235.4 L1473.0 1234.3 L1473.9 1233.1 L1474.9 1231.9 L1475.9 1230.8 L1477.0 1229.7 L1478.1 1228.7 L1479.4 1227.7 L1480.7 1226.7 L1482.1 1225.7 L1483.6 1224.8 L1485.1 1223.9 L1486.7 1222.9 L1488.2 1222.0 L1489.7 1221.1 L1491.1 1220.1 L1492.5 1219.2 L1493.8 1218.2 L1495.1 1217.2 L1496.4 1216.2 L1497.6 1215.1 L1498.8 1214.1 L1499.9 1213.0 L1501.0 1211.9 L1502.1 1210.8 L1503.1 1209.7 L1504.1 1208.6 L1505.1 1207.5 L1506.1 1206.3 L1507.0 1205.2 L1507.9 1204.0 L1508.8 1202.9 L1509.6 1201.7 L1510.5 1200.5 L1511.4 1199.3 L1512.2 1198.1 L1513.1 1196.9 L1514.0 1195.7 L1514.8 1194.5 L1515.7 1193.3 L1516.7 1192.1 L1517.6 1190.9 L1518.7 1189.7 L1519.7 1188.6 L1520.9 1187.6 L1522.1 1186.5 L1523.4 1185.6 L1524.9 1184.7 L1526.4 1183.9 L1528.1 1183.2 L1529.9 1182.6 L1531.8 1182.1 L1533.9 1181.6 L1536.0 1181.2 L1538.1 1180.8 L1540.3 1180.5 L1542.5 1180.2 L1544.7 1179.8 L1546.9 1179.5 L1549.0 1179.1 L1551.1 1178.7 L1553.2 1178.2 L1555.2 1177.8 L1557.0 1177.2 L1558.8 1176.6 L1560.8 1175.8 L1562.6 1174.9 L1564.1 1173.9 L1565.5 1172.7 L1566.5 1171.6 L1567.4 1170.5 L1568.2 1169.4 L1568.9 1168.1 L1569.5 1166.9 L1570.1 1165.6 L1570.7 1164.3 L1571.2 1163.0 L1571.8 1161.7 L1572.3 1160.4 L1572.9 1159.1 L1573.5 1157.8 L1574.2 1156.6 L1574.8 1155.3 L1575.5 1154.1 L1576.2 1152.9 L1576.9 1151.7 L1577.7 1150.5 L1578.4 1149.3 L1579.1 1148.1 L1579.9 1146.9 L1580.6 1145.7 L1581.4 1144.6 L1582.1 1143.4 L1582.8 1142.2 L1583.5 1141.0 L1584.2 1139.7 L1584.8 1138.5 L1585.5 1137.3 L1586.1 1136.0 L1586.7 1134.8 L1587.3 1133.5 L1588.0 1132.3 L1588.7 1131.0 L1589.4 1129.8 L1590.3 1128.6 L1591.2 1127.5 L1592.2 1126.3 L1593.3 1125.2 L1594.6 1124.2 L1595.9 1123.2 L1597.5 1122.3 L1599.1 1121.4 L1600.7 1120.5 L1602.2 1119.6 L1603.6 1118.6 L1604.8 1117.6 L1605.8 1116.5 L1606.6 1115.3 L1607.2 1114.0 L1607.8 1112.8 L1608.3 1111.5 L1608.8 1110.2 L1609.4 1109.0 L1609.9 1107.7 L1610.5 1106.5 L1611.0 1105.2 L1611.6 1104.0 L1612.1 1102.7 L1612.7 1101.5 L1613.3 1100.2 L1613.9 1099.0 L1614.4 1097.7 L1615.0 1096.5 L1615.6 1095.3 L1616.2 1094.0 L1616.8 1092.8 L1617.4 1091.6 L1618.0 1090.3 L1618.5 1089.1 L1619.1 1087.8 L1619.7 1086.6 L1620.3 1085.4 L1620.8 1084.1 L1621.4 1082.9 L1622.0 1081.6 L1622.6 1080.4 L1623.1 1079.2 L1623.7 1077.9 L1624.3 1076.7 L1624.9 1075.4 L1625.5 1074.2 L1626.1 1073.0 L1626.7 1071.7 L1627.4 1070.5 L1628.0 1069.3 L1628.7 1068.1 L1629.3 1066.8 L1630.0 1065.6 L1630.7 1064.4 L1631.5 1063.2 L1632.2 1062.0 L1633.0 1060.8 L1633.8 1059.6 L1634.6 1058.4 L1635.4 1057.2 L1636.2 1056.1 L1637.1 1054.9 L1638.0 1053.7 L1638.9 1052.5 L1639.8 1051.4 L1640.7 1050.2 L1641.6 1049.0 L1642.5 1047.9 L1643.5 1046.7 L1644.4 1045.6 L1645.3 1044.4 L1646.2 1043.2 L1647.1 1042.1 L1648.0 1040.9 L1648.9 1039.7 L1649.8 1038.6 L1650.7 1037.4 L1651.5 1036.2 L1652.3 1035.0 L1653.1 1033.8 L1653.9 1032.6 L1654.7 1031.4 L1655.4 1030.2 L1656.2 1029.0 L1656.9 1027.8 L1657.6 1026.6 L1658.4 1025.3 L1659.1 1024.1 L1659.8 1022.9 L1660.5 1021.7 L1661.2 1020.5 L1662.0 1019.3 L1662.7 1018.0 L1663.4 1016.8 L1664.2 1015.6 L1665.0 1014.4 L1665.8 1013.2 L1666.6 1012.0 L1667.5 1010.9 L1668.3 1009.7 L1669.2 1008.5 L1670.2 1007.4 L1671.2 1006.2 L1672.2 1005.1 L1673.2 1004.0 L1674.2 1002.8 L1675.2 1001.7 L1676.3 1000.6 L1677.3 999.5 L1678.4 998.3 L1679.4 997.2 L1680.4 996.1 L1681.4 995.0 L1682.3 993.8 L1683.3 992.7 L1684.1 991.5 L1685.0 990.4 L1685.8 989.2 L1686.5 988.0 L1687.2 986.8 L1687.9 985.6 L1688.5 984.4 L1689.0 983.2 L1689.5 981.9 L1690.0 980.7 L1690.4 979.4 L1690.8 978.2 L1691.2 976.9 L1691.6 975.6 L1691.9 974.3 L1692.2 973.0 L1692.5 971.8 L1692.8 970.5 L1693.1 969.2 L1693.4 967.9 L1693.7 966.6 L1694.0 965.3 L1694.3 964.0 L1694.6 962.7 L1695.0 961.4 L1695.3 960.2 L1695.7 958.9 L1696.1 957.6 L1696.5 956.3 L1697.0 955.1 L1697.4 953.8 L1697.9 952.6 L1698.4 951.3 L1699.0 950.1 L1699.5 948.8 L1700.0 947.6 L1700.5 946.4 L1701.1 945.1 L1701.6 943.9 L1702.1 942.6 L1702.7 941.4 L1703.2 940.1 L1703.7 938.9 L1704.1 937.6 L1704.6 936.4 L1705.0 935.1 L1705.5 933.9 L1705.9 932.6 L1706.3 931.3 L1706.6 930.1 L1707.0 928.8 L1707.4 927.5 L1707.8 926.2 L1708.2 924.9 L1708.7 923.6 L1709.1 922.4 L1709.6 921.1 L1710.1 919.8 L1710.7 918.5 L1711.4 917.3 L1712.2 916.1 L1713.1 915.1 L1714.6 913.9 L1716.4 913.1 L1718.2 912.5 L1720.3 912.2 L1722.5 911.9 L1724.6 911.6 L1726.7 911.0 L1728.1 909.9 L1728.9 908.8 L1729.3 907.5 L1729.6 906.1 L1729.8 904.6 L1730.1 903.1 L1730.4 901.8 L1730.8 900.4 L1731.4 899.1 L1731.9 897.9 L1732.5 896.6 L1733.2 895.4 L1733.9 894.3 L1734.5 893.1 L1735.2 891.9 L1735.8 890.7 L1736.4 889.5 L1737.0 888.3 L1737.5 887.0 L1737.9 885.7 L1738.4 884.4 L1739.0 883.2 L1739.6 881.9 L1740.4 880.8 L1741.3 879.7 L1742.4 878.6 L1743.7 877.5 L1744.9 876.4 L1746.2 875.3 L1747.4 874.1 L1748.5 872.7 L1749.6 871.4 L1750.8 870.3 L1752.3 869.3 L1754.5 869.1 L1756.6 869.7 L1758.6 870.4 L1760.6 871.1 L1762.8 871.3 L1764.7 870.8 L1766.4 869.9 L1768.0 868.9 L1769.3 867.8 L1770.2 866.7 L1771.1 865.6 L1771.9 864.4 L1772.6 863.2 L1773.3 861.9 L1773.9 860.6 L1774.5 859.3 L1775.0 857.9 L1775.6 856.6 L1776.2 855.3 L1776.9 853.9 L1777.5 852.6 L1778.3 851.4 L1779.1 850.2 L1780.1 849.0 L1781.1 847.9 L1782.2 846.9 L1783.5 845.9 L1785.0 845.1 L1786.6 844.3 L1788.4 843.7 L1790.4 843.1 L1792.5 842.8 L1794.7 842.5 L1796.9 842.5 L1799.1 842.6 L1801.1 843.0 L1803.0 843.6 L1804.6 844.4 L1806.0 845.5 L1806.9 846.6 L1807.5 847.9 L1807.7 848.6" stroke="#0072BD" stroke-width="8.6" stroke-dasharray="7.3 5.45"/>
</g>
<text transform="translate(177.85 1457.30) scale(1 1.046)" font-size="60.50" fill="#202020" text-anchor="middle">-900</text>
<text transform="translate(584.95 1457.30) scale(1 1.046)" font-size="60.50" fill="#202020" text-anchor="middle">-800</text>
<text transform="translate(992.20 1457.30) scale(1 1.046)" font-size="60.50" fill="#202020" text-anchor="middle">-700</text>
<text transform="translate(1399.05 1457.30) scale(1 1.046)" font-size="60.50" fill="#202020" text-anchor="middle">-600</text>
<text transform="translate(1805.20 1457.30) scale(1 1.046)" font-size="60.50" fill="#202020" text-anchor="middle">-500</text>
<text transform="translate(156.20 1396.50) scale(1 1.046)" font-size="60.50" fill="#202020" text-anchor="end">0</text>
<text transform="translate(156.20 1213.41) scale(1 1.046)" font-size="60.50" fill="#202020" text-anchor="end">1</text>
<text transform="translate(156.20 1030.33) scale(1 1.046)" font-size="60.50" fill="#202020" text-anchor="end">2</text>
<text transform="translate(156.20 847.24) scale(1 1.046)" font-size="60.50" fill="#202020" text-anchor="end">3</text>
<text transform="translate(156.20 664.16) scale(1 1.046)" font-size="60.50" fill="#202020" text-anchor="end">4</text>
<text transform="translate(156.20 481.07) scale(1 1.046)" font-size="60.50" fill="#202020" text-anchor="end">5</text>
<text transform="translate(156.20 297.99) scale(1 1.046)" font-size="60.50" fill="#202020" text-anchor="end">6</text>
<text transform="translate(156.20 114.90) scale(1 1.046)" font-size="60.50" fill="#202020" text-anchor="end">7</text>
<text transform="translate(182.20 85.80) scale(1 1.046)" font-size="73.00" fill="#202020" stroke="#fff" stroke-width="2.00">&#215;</text>
<text transform="translate(226.10 76.30) scale(1 1.046)" font-size="60.50" fill="#202020">10</text>
<text transform="translate(295.00 46.80) scale(1 1.046)" font-size="45.10" fill="#202020">-4</text>
<text transform="translate(994.40 1544.80) scale(1 1.020)" font-size="66.80" fill="#202020" text-anchor="middle">Borehole axis (m)</text>
<text transform="translate(94.00 731.00) rotate(-90) scale(1 1.020)" font-size="66.80" fill="#202020" text-anchor="middle">Convergent current density (A/m<tspan font-size="53.0" dy="-32.0">2</tspan><tspan dx="5.0" dy="32.0">)</tspan></text>
<rect x="230" y="139" width="1340" height="306" fill="#fff"/>
<g fill="#202020"><rect x="230" y="139" width="1340" height="4"/><rect x="230" y="442" width="1340" height="3"/><rect x="230" y="139" width="3" height="306"/><rect x="1566" y="139" width="4" height="306"/></g>
<line x1="246" y1="183.5" x2="359.3" y2="183.5" stroke="#0072BD" stroke-width="8.6"/>
<text transform="translate(369.60 205.00) scale(1 1.020)" font-size="53.60" fill="#000">Excited current of 300 mA (Analytical expression)</text>
<line x1="246" y1="256.0" x2="359.3" y2="256.0" stroke="#F9530B" stroke-width="8.6"/>
<text transform="translate(369.60 277.00) scale(1 1.020)" font-size="53.60" fill="#000">Excited current of 500 mA (Analytical expression)</text>
<line x1="246" y1="328.5" x2="359.3" y2="328.5" stroke="#F9530B" stroke-width="8.6" stroke-dasharray="7.3 5.45"/>
<text transform="translate(369.60 349.00) scale(1 1.020)" font-size="53.60" fill="#000">Excited current of 500 mA (Numerical expression)</text>
<line x1="246" y1="400.4" x2="359.3" y2="400.4" stroke="#0072BD" stroke-width="8.6" stroke-dasharray="7.3 5.45"/>
<text transform="translate(369.60 420.90) scale(1 1.020)" font-size="53.60" fill="#000">Excited current of 300 mA (Numerical expression)</text>
</svg></body></html>
